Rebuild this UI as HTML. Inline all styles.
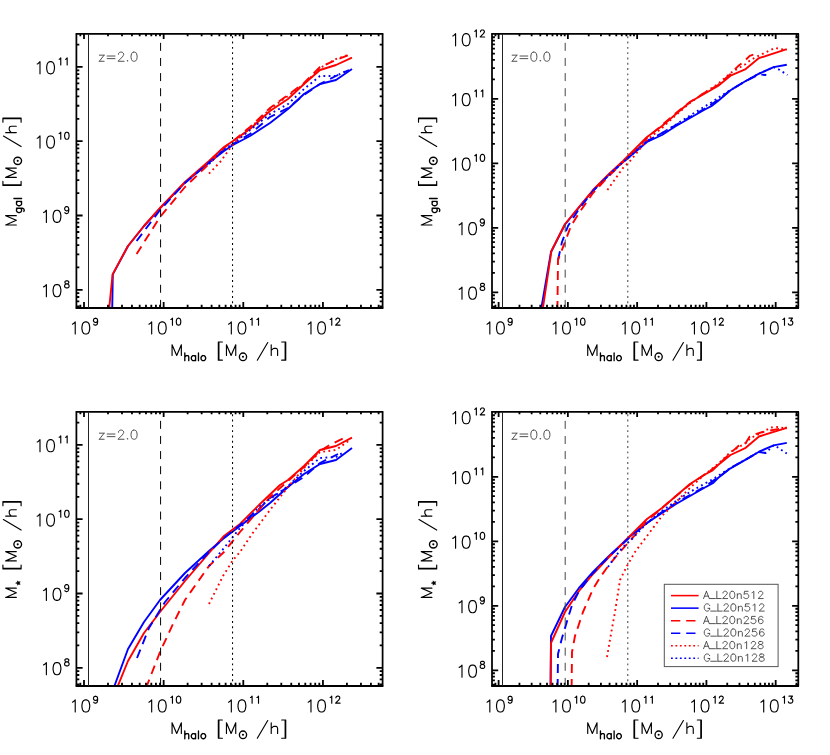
<!DOCTYPE html>
<html><head><meta charset="utf-8"><title>plot</title><style>html,body{margin:0;padding:0;background:#fff}svg{display:block}</style></head><body>
<svg width="830" height="755" viewBox="0 0 830 755" font-family="Liberation Sans, sans-serif" fill="#000">
<desc>Four-panel plot: M_gal and M_star [M_sun/h] versus M_halo [M_sun/h] at z=2.0 and z=0.0 for A_L20n512, G_L20n512, A_L20n256, G_L20n256, A_L20n128, G_L20n128</desc>
<rect width="830" height="755" fill="#fff"/>
<defs>
<clipPath id="c1"><rect x="76.4" y="33.85" width="306.20000000000005" height="274.15"/></clipPath>
<clipPath id="c2"><rect x="492.0" y="33.85" width="306.29999999999995" height="274.15"/></clipPath>
<clipPath id="c3"><rect x="76.4" y="411.85" width="306.20000000000005" height="274.15"/></clipPath>
<clipPath id="c4"><rect x="492.0" y="411.85" width="306.29999999999995" height="274.15"/></clipPath>
</defs>
<path d="M112.2 310.0 L112.8 274.4 L128.0 246.0 L144.0 226.0 L160.0 208.3 L185.0 182.5 L209.0 162.5 L224.0 151.0 L233.0 145.0 L250.0 136.0 L270.0 123.0 L288.0 109.0 L304.0 94.0 L320.0 84.0 L336.0 80.0 L352.0 69.0" fill="none" stroke="#0000ff" stroke-width="1.9" stroke-linejoin="round" clip-path="url(#c1)"/>
<path d="M109.0 310.0 L112.6 274.4 L128.0 246.0 L144.0 226.0 L160.0 208.0 L185.0 182.0 L209.0 161.0 L224.0 147.0 L233.0 141.0 L250.0 129.0 L270.0 111.0 L288.0 99.0 L304.0 84.0 L320.0 70.0 L336.0 65.0 L352.0 57.6" fill="none" stroke="#ff0000" stroke-width="1.9" stroke-linejoin="round" clip-path="url(#c1)"/>
<path d="M136.6 241.0 L160.0 210.0 L185.0 183.0 L209.0 162.5 L224.0 150.0 L233.0 144.0 L250.0 134.0 L270.0 117.0 L288.0 108.0 L304.0 95.0 L320.0 84.0 L336.0 76.0 L349.0 70.0" fill="none" stroke="#0000ff" stroke-width="1.9" stroke-linejoin="round" stroke-dasharray="9 6" clip-path="url(#c1)"/>
<path d="M136.6 254.0 L160.0 217.0 L185.0 187.0 L209.0 164.0 L224.0 148.0 L233.0 141.0 L250.0 127.0 L270.0 108.0 L288.0 95.0 L304.0 83.0 L320.0 67.0 L336.0 60.0 L349.0 55.0" fill="none" stroke="#ff0000" stroke-width="1.9" stroke-linejoin="round" stroke-dasharray="9 6" clip-path="url(#c1)"/>
<path d="M209.0 164.0 L224.0 149.5 L233.0 144.0 L250.0 130.0 L270.0 114.0 L288.0 104.0 L304.0 89.0 L320.0 76.0 L336.0 76.0 L346.0 71.0" fill="none" stroke="#0000ff" stroke-width="1.9" stroke-linejoin="round" stroke-dasharray="1.8 3.4" clip-path="url(#c1)"/>
<path d="M209.0 173.6 L221.0 161.0 L233.0 144.0 L250.0 128.0 L270.0 109.0 L288.0 96.0 L304.0 84.0 L320.0 68.0 L336.0 59.0 L350.0 54.4" fill="none" stroke="#ff0000" stroke-width="1.9" stroke-linejoin="round" stroke-dasharray="1.8 3.4" clip-path="url(#c1)"/>
<path d="M541.0 310.0 L551.0 252.0 L565.0 224.5 L579.0 207.3 L593.0 190.5 L609.0 174.5 L623.0 162.0 L628.0 158.0 L647.0 142.0 L662.0 135.0 L676.0 126.0 L690.0 118.0 L704.0 110.0 L711.3 106.2 L718.0 101.0 L730.5 90.3 L745.7 81.0 L759.0 73.7 L773.6 67.1 L786.8 64.7" fill="none" stroke="#0000ff" stroke-width="1.9" stroke-linejoin="round" clip-path="url(#c2)"/>
<path d="M542.6 310.0 L551.4 251.0 L565.0 224.0 L579.0 207.0 L593.0 190.0 L609.0 174.0 L623.0 161.0 L628.0 156.0 L647.0 137.0 L662.0 126.0 L676.0 114.0 L690.0 102.0 L704.0 94.0 L718.0 86.0 L730.5 75.7 L745.7 69.1 L759.0 58.1 L786.8 49.2" fill="none" stroke="#ff0000" stroke-width="1.9" stroke-linejoin="round" clip-path="url(#c2)"/>
<path d="M558.0 260.0 L562.0 242.0 L568.0 226.0 L579.0 209.0 L593.0 191.0 L609.0 175.0 L623.0 162.0 L628.0 158.0 L647.0 141.0 L662.0 133.0 L676.0 125.0 L690.0 117.0 L704.0 109.0 L718.0 100.0 L730.5 90.0 L745.7 81.0 L759.0 74.5 L766.3 75.0" fill="none" stroke="#0000ff" stroke-width="1.9" stroke-linejoin="round" stroke-dasharray="9 6" clip-path="url(#c2)"/>
<path d="M557.4 310.0 L558.0 260.0 L565.0 242.0 L571.0 226.0 L579.0 213.0 L593.0 193.0 L609.0 176.0 L623.0 162.0 L628.0 157.0 L647.0 138.0 L662.0 125.0 L676.0 113.0 L690.0 102.0 L704.0 93.0 L718.0 85.0 L730.5 74.0 L738.4 65.8 L743.7 61.8 L749.7 55.8 L755.7 53.9" fill="none" stroke="#ff0000" stroke-width="1.9" stroke-linejoin="round" stroke-dasharray="9 6" clip-path="url(#c2)"/>
<path d="M609.0 175.0 L623.0 162.0 L628.0 158.0 L647.0 141.0 L662.0 133.0 L676.0 124.5 L690.0 115.5 L704.0 107.0 L711.3 102.5 L724.0 94.0 L730.5 90.0 L745.7 81.0 L759.0 73.7 L773.6 67.1 L779.5 69.8 L787.5 75.0" fill="none" stroke="#0000ff" stroke-width="1.9" stroke-linejoin="round" stroke-dasharray="1.8 3.4" clip-path="url(#c2)"/>
<path d="M607.4 190.0 L623.0 168.0 L631.0 160.0 L647.0 140.0 L662.0 128.0 L676.0 115.0 L690.0 103.0 L704.0 93.0 L718.0 84.0 L730.5 73.0 L745.7 64.0 L750.5 60.0 L759.0 55.5 L774.9 47.9 L781.0 49.2 L786.8 49.9" fill="none" stroke="#ff0000" stroke-width="1.9" stroke-linejoin="round" stroke-dasharray="1.8 3.4" clip-path="url(#c2)"/>
<path d="M113.7 688.0 L128.0 649.0 L144.0 622.0 L160.0 600.0 L185.0 573.0 L209.0 551.0 L224.0 538.0 L240.0 526.0 L260.0 511.0 L270.0 503.0 L288.0 487.0 L304.0 474.0 L320.0 464.0 L336.0 460.0 L352.0 448.0" fill="none" stroke="#0000ff" stroke-width="1.9" stroke-linejoin="round" clip-path="url(#c3)"/>
<path d="M117.0 688.0 L128.0 661.0 L144.0 633.0 L160.0 612.0 L185.0 581.0 L209.0 553.0 L224.0 536.0 L240.0 524.0 L260.0 504.0 L280.0 485.0 L288.0 480.0 L304.0 466.0 L320.0 450.0 L336.0 446.0 L352.0 437.6" fill="none" stroke="#ff0000" stroke-width="1.9" stroke-linejoin="round" clip-path="url(#c3)"/>
<path d="M137.0 658.0 L149.0 628.0 L165.0 602.0 L185.0 578.0 L209.0 552.0 L224.0 538.0 L240.0 525.0 L260.0 508.0 L270.0 498.0 L288.0 487.0 L304.0 477.0 L320.0 463.0 L338.0 454.0" fill="none" stroke="#0000ff" stroke-width="1.9" stroke-linejoin="round" stroke-dasharray="9 6" clip-path="url(#c3)"/>
<path d="M146.0 688.0 L160.0 652.0 L173.0 624.0 L185.0 600.0 L197.0 583.0 L209.0 566.0 L224.0 552.0 L240.0 532.0 L252.0 518.0 L270.0 497.0 L288.0 481.0 L304.0 467.0 L320.0 451.0 L328.0 446.0 L344.0 438.0" fill="none" stroke="#ff0000" stroke-width="1.9" stroke-linejoin="round" stroke-dasharray="9 6" clip-path="url(#c3)"/>
<path d="M209.0 566.0 L224.0 548.0 L240.0 528.0 L260.0 506.0 L280.0 492.0 L288.0 486.0 L304.0 471.0 L320.0 458.0 L336.0 457.0 L344.0 452.0" fill="none" stroke="#0000ff" stroke-width="1.9" stroke-linejoin="round" stroke-dasharray="1.8 3.4" clip-path="url(#c3)"/>
<path d="M209.0 604.0 L223.0 576.0 L233.0 560.0 L240.0 552.0 L252.0 534.0 L270.0 510.0 L288.0 487.0 L304.0 468.0 L320.0 452.0 L336.0 450.0 L350.0 440.0" fill="none" stroke="#ff0000" stroke-width="1.9" stroke-linejoin="round" stroke-dasharray="1.8 3.4" clip-path="url(#c3)"/>
<path d="M550.6 688.0 L551.0 636.0 L565.0 607.0 L579.0 588.0 L593.0 572.0 L609.0 556.0 L623.0 543.0 L628.0 538.0 L647.0 523.0 L662.0 513.0 L676.0 504.0 L690.0 496.0 L704.0 488.0 L713.3 482.9 L718.0 478.0 L730.5 468.3 L745.7 459.7 L759.0 451.7 L773.6 445.4 L786.8 442.9" fill="none" stroke="#0000ff" stroke-width="1.9" stroke-linejoin="round" clip-path="url(#c4)"/>
<path d="M550.6 688.0 L551.0 643.0 L565.0 612.0 L579.0 591.0 L593.0 574.0 L609.0 557.0 L623.0 543.0 L628.0 538.0 L647.0 519.0 L662.0 508.0 L676.0 496.0 L690.0 484.0 L704.0 475.0 L712.6 470.3 L718.0 465.0 L730.5 455.0 L745.7 447.8 L759.0 436.5 L786.8 427.9" fill="none" stroke="#ff0000" stroke-width="1.9" stroke-linejoin="round" clip-path="url(#c4)"/>
<path d="M557.6 688.0 L558.0 654.0 L562.0 638.0 L568.0 618.0 L572.0 605.0 L579.0 591.0 L593.0 573.0 L609.0 556.5 L623.0 543.5 L628.0 539.0 L647.0 523.0 L662.0 512.0 L676.0 503.0 L690.0 495.0 L704.0 487.0 L718.0 477.5 L730.5 468.0 L745.7 459.5 L759.0 452.0 L766.0 453.0" fill="none" stroke="#0000ff" stroke-width="1.9" stroke-linejoin="round" stroke-dasharray="9 6" clip-path="url(#c4)"/>
<path d="M571.6 688.0 L572.0 652.0 L575.0 636.0 L583.0 612.0 L593.0 589.0 L601.0 576.0 L609.0 565.0 L619.0 553.0 L629.0 542.0 L647.0 521.0 L662.0 508.0 L676.0 496.0 L690.0 484.5 L704.0 475.0 L718.0 465.0 L730.5 453.0 L738.4 446.0 L745.7 443.0 L749.7 436.5 L753.0 435.0 L761.0 432.5 L767.6 431.0 L786.8 427.5" fill="none" stroke="#ff0000" stroke-width="1.9" stroke-linejoin="round" stroke-dasharray="9 6" clip-path="url(#c4)"/>
<path d="M608.0 567.0 L615.0 557.0 L623.0 547.0 L632.0 539.0 L647.0 523.0 L662.0 511.0 L676.0 501.0 L690.0 492.0 L704.0 484.0 L713.3 479.0 L724.0 472.0 L730.5 468.0 L745.7 459.5 L759.0 451.7 L765.6 453.0 L773.6 445.4 L777.0 447.0 L781.5 450.0 L786.8 453.5" fill="none" stroke="#0000ff" stroke-width="1.9" stroke-linejoin="round" stroke-dasharray="1.8 3.4" clip-path="url(#c4)"/>
<path d="M607.0 657.0 L611.0 634.0 L615.0 612.0 L620.0 580.0 L627.0 566.0 L635.0 552.0 L647.0 536.0 L662.0 516.0 L676.0 502.0 L690.0 488.0 L704.0 475.0 L718.0 464.0 L730.5 452.0 L745.7 443.0 L750.5 438.0 L759.0 434.0 L771.0 427.5 L777.0 427.0 L786.8 428.5" fill="none" stroke="#ff0000" stroke-width="1.9" stroke-linejoin="round" stroke-dasharray="1.8 3.4" clip-path="url(#c4)"/>
<path d="M76.55000000000001 33.85 H382.45000000000005" fill="none" stroke="#000" stroke-width="1.8" stroke-linecap="round"/>
<path d="M76.55000000000001 308.0 H382.45000000000005" fill="none" stroke="#000" stroke-width="2.0" stroke-linecap="round"/>
<path d="M76.4 33.85 V308.0 M382.6 33.85 V308.0" fill="none" stroke="#000" stroke-width="1.75" stroke-linecap="round"/>
<path d="M80.36 308.0 v-3.30 M80.36 33.85 v2.45 M84.00 308.0 v-6.00 M84.00 33.85 v5.15 M107.98 308.0 v-3.30 M107.98 33.85 v2.45 M122.00 308.0 v-3.30 M122.00 33.85 v2.45 M131.95 308.0 v-3.30 M131.95 33.85 v2.45 M139.67 308.0 v-3.30 M139.67 33.85 v2.45 M145.98 308.0 v-3.30 M145.98 33.85 v2.45 M151.31 308.0 v-3.30 M151.31 33.85 v2.45 M155.93 308.0 v-3.30 M155.93 33.85 v2.45 M160.01 308.0 v-3.30 M160.01 33.85 v2.45 M163.65 308.0 v-6.00 M163.65 33.85 v5.15 M187.63 308.0 v-3.30 M187.63 33.85 v2.45 M201.65 308.0 v-3.30 M201.65 33.85 v2.45 M211.60 308.0 v-3.30 M211.60 33.85 v2.45 M219.32 308.0 v-3.30 M219.32 33.85 v2.45 M225.63 308.0 v-3.30 M225.63 33.85 v2.45 M230.96 308.0 v-3.30 M230.96 33.85 v2.45 M235.58 308.0 v-3.30 M235.58 33.85 v2.45 M239.66 308.0 v-3.30 M239.66 33.85 v2.45 M243.30 308.0 v-6.00 M243.30 33.85 v5.15 M267.28 308.0 v-3.30 M267.28 33.85 v2.45 M281.30 308.0 v-3.30 M281.30 33.85 v2.45 M291.25 308.0 v-3.30 M291.25 33.85 v2.45 M298.97 308.0 v-3.30 M298.97 33.85 v2.45 M305.28 308.0 v-3.30 M305.28 33.85 v2.45 M310.61 308.0 v-3.30 M310.61 33.85 v2.45 M315.23 308.0 v-3.30 M315.23 33.85 v2.45 M319.31 308.0 v-3.30 M319.31 33.85 v2.45 M322.95 308.0 v-6.00 M322.95 33.85 v5.15 M346.93 308.0 v-3.30 M346.93 33.85 v2.45 M360.95 308.0 v-3.30 M360.95 33.85 v2.45 M370.90 308.0 v-3.30 M370.90 33.85 v2.45 M378.62 308.0 v-3.30 M378.62 33.85 v2.45 M76.4 306.28 h2.9 M382.6 306.28 h-2.9 M76.4 301.31 h2.9 M382.6 301.31 h-2.9 M76.4 297.00 h2.9 M382.6 297.00 h-2.9 M76.4 293.20 h2.9 M382.6 293.20 h-2.9 M76.4 289.80 h6.199999999999999 M382.6 289.80 h-6.199999999999999 M76.4 267.43 h2.9 M382.6 267.43 h-2.9 M76.4 254.35 h2.9 M382.6 254.35 h-2.9 M76.4 245.07 h2.9 M382.6 245.07 h-2.9 M76.4 237.87 h2.9 M382.6 237.87 h-2.9 M76.4 231.98 h2.9 M382.6 231.98 h-2.9 M76.4 227.01 h2.9 M382.6 227.01 h-2.9 M76.4 222.70 h2.9 M382.6 222.70 h-2.9 M76.4 218.90 h2.9 M382.6 218.90 h-2.9 M76.4 215.50 h6.199999999999999 M382.6 215.50 h-6.199999999999999 M76.4 193.13 h2.9 M382.6 193.13 h-2.9 M76.4 180.05 h2.9 M382.6 180.05 h-2.9 M76.4 170.77 h2.9 M382.6 170.77 h-2.9 M76.4 163.57 h2.9 M382.6 163.57 h-2.9 M76.4 157.68 h2.9 M382.6 157.68 h-2.9 M76.4 152.71 h2.9 M382.6 152.71 h-2.9 M76.4 148.40 h2.9 M382.6 148.40 h-2.9 M76.4 144.60 h2.9 M382.6 144.60 h-2.9 M76.4 141.20 h6.199999999999999 M382.6 141.20 h-6.199999999999999 M76.4 118.83 h2.9 M382.6 118.83 h-2.9 M76.4 105.75 h2.9 M382.6 105.75 h-2.9 M76.4 96.47 h2.9 M382.6 96.47 h-2.9 M76.4 89.27 h2.9 M382.6 89.27 h-2.9 M76.4 83.38 h2.9 M382.6 83.38 h-2.9 M76.4 78.41 h2.9 M382.6 78.41 h-2.9 M76.4 74.10 h2.9 M382.6 74.10 h-2.9 M76.4 70.30 h2.9 M382.6 70.30 h-2.9 M76.4 66.90 h6.199999999999999 M382.6 66.90 h-6.199999999999999 M76.4 44.53 h2.9 M382.6 44.53 h-2.9" stroke="#000" stroke-width="1.8" fill="none"/>
<g transform="translate(84.00 334.00)" fill="none" stroke="#000" stroke-width="1.15" stroke-linecap="round" stroke-linejoin="round"><path d="M-11.55 -9.83 L-10.44 -10.40 L-8.77 -12.14 L-8.77 0.00 M1.26 -12.14 L-0.41 -11.56 L-1.52 -9.83 L-2.08 -6.94 L-2.08 -5.20 L-1.52 -2.31 L-0.41 -0.58 L1.26 0.00 L2.37 0.00 L4.05 -0.58 L5.16 -2.31 L5.72 -5.20 L5.72 -6.94 L5.16 -9.83 L4.05 -11.56 L2.37 -12.14 L1.26 -12.14"/><path d="M13.61 -13.50 L13.29 -12.51 L12.65 -11.84 L11.69 -11.51 L11.37 -11.51 L10.41 -11.84 L9.77 -12.51 L9.45 -13.50 L9.45 -13.84 L9.77 -14.83 L10.41 -15.50 L11.37 -15.83 L11.69 -15.83 L12.65 -15.50 L13.29 -14.83 L13.61 -13.50 L13.61 -11.84 L13.29 -10.18 L12.65 -9.18 L11.69 -8.85 L11.05 -8.85 L10.09 -9.18 L9.77 -9.85" stroke-width="1.15"/></g>
<g transform="translate(163.65 334.00)" fill="none" stroke="#000" stroke-width="1.15" stroke-linecap="round" stroke-linejoin="round"><path d="M-14.75 -9.83 L-13.64 -10.40 L-11.97 -12.14 L-11.97 0.00 M-1.94 -12.14 L-3.61 -11.56 L-4.73 -9.83 L-5.28 -6.94 L-5.28 -5.20 L-4.73 -2.31 L-3.61 -0.58 L-1.94 0.00 L-0.83 0.00 L0.84 -0.58 L1.96 -2.31 L2.51 -5.20 L2.51 -6.94 L1.96 -9.83 L0.84 -11.56 L-0.83 -12.14 L-1.94 -12.14"/><path d="M7.21 -14.50 L7.85 -14.83 L8.81 -15.83 L8.81 -8.85 M14.57 -15.83 L13.61 -15.50 L12.97 -14.50 L12.65 -12.84 L12.65 -11.84 L12.97 -10.18 L13.61 -9.18 L14.57 -8.85 L15.21 -8.85 L16.17 -9.18 L16.81 -10.18 L17.13 -11.84 L17.13 -12.84 L16.81 -14.50 L16.17 -15.50 L15.21 -15.83 L14.57 -15.83" stroke-width="1.15"/></g>
<g transform="translate(243.30 334.00)" fill="none" stroke="#000" stroke-width="1.15" stroke-linecap="round" stroke-linejoin="round"><path d="M-14.75 -9.83 L-13.64 -10.40 L-11.97 -12.14 L-11.97 0.00 M-1.94 -12.14 L-3.61 -11.56 L-4.73 -9.83 L-5.28 -6.94 L-5.28 -5.20 L-4.73 -2.31 L-3.61 -0.58 L-1.94 0.00 L-0.83 0.00 L0.84 -0.58 L1.96 -2.31 L2.51 -5.20 L2.51 -6.94 L1.96 -9.83 L0.84 -11.56 L-0.83 -12.14 L-1.94 -12.14"/><path d="M7.21 -14.50 L7.85 -14.83 L8.81 -15.83 L8.81 -8.85 M13.61 -14.50 L14.25 -14.83 L15.21 -15.83 L15.21 -8.85" stroke-width="1.15"/></g>
<g transform="translate(322.95 334.00)" fill="none" stroke="#000" stroke-width="1.15" stroke-linecap="round" stroke-linejoin="round"><path d="M-14.75 -9.83 L-13.64 -10.40 L-11.97 -12.14 L-11.97 0.00 M-1.94 -12.14 L-3.61 -11.56 L-4.73 -9.83 L-5.28 -6.94 L-5.28 -5.20 L-4.73 -2.31 L-3.61 -0.58 L-1.94 0.00 L-0.83 0.00 L0.84 -0.58 L1.96 -2.31 L2.51 -5.20 L2.51 -6.94 L1.96 -9.83 L0.84 -11.56 L-0.83 -12.14 L-1.94 -12.14"/><path d="M7.21 -14.50 L7.85 -14.83 L8.81 -15.83 L8.81 -8.85 M12.97 -14.17 L12.97 -14.50 L13.29 -15.16 L13.61 -15.50 L14.25 -15.83 L15.53 -15.83 L16.17 -15.50 L16.49 -15.16 L16.81 -14.50 L16.81 -13.84 L16.49 -13.17 L15.85 -12.17 L12.65 -8.85 L17.13 -8.85" stroke-width="1.15"/></g>
<g transform="translate(70.05 296.70)" fill="none" stroke="#000" stroke-width="1.15" stroke-linecap="round" stroke-linejoin="round"><path d="M-26.44 -9.83 L-25.33 -10.40 L-23.66 -12.14 L-23.66 0.00 M-13.63 -12.14 L-15.30 -11.56 L-16.42 -9.83 L-16.97 -6.94 L-16.97 -5.20 L-16.42 -2.31 L-15.30 -0.58 L-13.63 0.00 L-12.52 0.00 L-10.85 -0.58 L-9.73 -2.31 L-9.18 -5.20 L-9.18 -6.94 L-9.73 -9.83 L-10.85 -11.56 L-12.52 -12.14 L-13.63 -12.14"/><path d="M-3.84 -15.83 L-4.80 -15.50 L-5.12 -14.83 L-5.12 -14.17 L-4.80 -13.50 L-4.16 -13.17 L-2.88 -12.84 L-1.92 -12.51 L-1.28 -11.84 L-0.96 -11.18 L-0.96 -10.18 L-1.28 -9.51 L-1.60 -9.18 L-2.56 -8.85 L-3.84 -8.85 L-4.80 -9.18 L-5.12 -9.51 L-5.44 -10.18 L-5.44 -11.18 L-5.12 -11.84 L-4.48 -12.51 L-3.52 -12.84 L-2.24 -13.17 L-1.60 -13.50 L-1.28 -14.17 L-1.28 -14.83 L-1.60 -15.50 L-2.56 -15.83 L-3.84 -15.83" stroke-width="1.15"/></g>
<g transform="translate(70.05 222.40)" fill="none" stroke="#000" stroke-width="1.15" stroke-linecap="round" stroke-linejoin="round"><path d="M-26.44 -9.83 L-25.33 -10.40 L-23.66 -12.14 L-23.66 0.00 M-13.63 -12.14 L-15.30 -11.56 L-16.42 -9.83 L-16.97 -6.94 L-16.97 -5.20 L-16.42 -2.31 L-15.30 -0.58 L-13.63 0.00 L-12.52 0.00 L-10.85 -0.58 L-9.73 -2.31 L-9.18 -5.20 L-9.18 -6.94 L-9.73 -9.83 L-10.85 -11.56 L-12.52 -12.14 L-13.63 -12.14"/><path d="M-1.28 -13.50 L-1.60 -12.51 L-2.24 -11.84 L-3.20 -11.51 L-3.52 -11.51 L-4.48 -11.84 L-5.12 -12.51 L-5.44 -13.50 L-5.44 -13.84 L-5.12 -14.83 L-4.48 -15.50 L-3.52 -15.83 L-3.20 -15.83 L-2.24 -15.50 L-1.60 -14.83 L-1.28 -13.50 L-1.28 -11.84 L-1.60 -10.18 L-2.24 -9.18 L-3.20 -8.85 L-3.84 -8.85 L-4.80 -9.18 L-5.12 -9.85" stroke-width="1.15"/></g>
<g transform="translate(70.05 148.10)" fill="none" stroke="#000" stroke-width="1.15" stroke-linecap="round" stroke-linejoin="round"><path d="M-32.85 -9.83 L-31.74 -10.40 L-30.06 -12.14 L-30.06 0.00 M-20.04 -12.14 L-21.71 -11.56 L-22.82 -9.83 L-23.38 -6.94 L-23.38 -5.20 L-22.82 -2.31 L-21.71 -0.58 L-20.04 0.00 L-18.92 0.00 L-17.25 -0.58 L-16.14 -2.31 L-15.58 -5.20 L-15.58 -6.94 L-16.14 -9.83 L-17.25 -11.56 L-18.92 -12.14 L-20.04 -12.14"/><path d="M-10.89 -14.50 L-10.25 -14.83 L-9.29 -15.83 L-9.29 -8.85 M-3.52 -15.83 L-4.48 -15.50 L-5.12 -14.50 L-5.44 -12.84 L-5.44 -11.84 L-5.12 -10.18 L-4.48 -9.18 L-3.52 -8.85 L-2.88 -8.85 L-1.92 -9.18 L-1.28 -10.18 L-0.96 -11.84 L-0.96 -12.84 L-1.28 -14.50 L-1.92 -15.50 L-2.88 -15.83 L-3.52 -15.83" stroke-width="1.15"/></g>
<g transform="translate(70.05 73.80)" fill="none" stroke="#000" stroke-width="1.15" stroke-linecap="round" stroke-linejoin="round"><path d="M-32.85 -9.83 L-31.74 -10.40 L-30.06 -12.14 L-30.06 0.00 M-20.04 -12.14 L-21.71 -11.56 L-22.82 -9.83 L-23.38 -6.94 L-23.38 -5.20 L-22.82 -2.31 L-21.71 -0.58 L-20.04 0.00 L-18.92 0.00 L-17.25 -0.58 L-16.14 -2.31 L-15.58 -5.20 L-15.58 -6.94 L-16.14 -9.83 L-17.25 -11.56 L-18.92 -12.14 L-20.04 -12.14"/><path d="M-10.89 -14.50 L-10.25 -14.83 L-9.29 -15.83 L-9.29 -8.85 M-4.48 -14.50 L-3.84 -14.83 L-2.88 -15.83 L-2.88 -8.85" stroke-width="1.15"/></g>
<line x1="88.50" y1="33.85" x2="88.50" y2="308.0" stroke="#222" stroke-width="1"/>
<line x1="160.58" y1="42.85" x2="160.58" y2="308.0" stroke="#000" stroke-width="1" stroke-dasharray="8.0 7.12"/>
<line x1="232.55" y1="36.30" x2="232.55" y2="308.0" stroke="#000" stroke-width="1.05" stroke-dasharray="1.9 3.4"/>
<g transform="translate(98.05 61.25)" fill="none" stroke="#505050" stroke-width="1.0" stroke-linecap="round" stroke-linejoin="round"><path d="M6.08 -6.09 L1.30 0.00 M1.30 -6.09 L6.08 -6.09 M1.30 0.00 L6.08 0.00 M9.11 -5.22 L16.93 -5.22 M9.11 -2.61 L16.93 -2.61 M20.40 -6.96 L20.40 -7.39 L20.83 -8.27 L21.27 -8.70 L22.13 -9.13 L23.87 -9.13 L24.74 -8.70 L25.17 -8.27 L25.61 -7.39 L25.61 -6.53 L25.17 -5.66 L24.30 -4.35 L19.96 0.00 L26.04 0.00 M29.51 -0.87 L29.08 -0.43 L29.51 0.00 L29.95 -0.43 L29.51 -0.87 M35.59 -9.13 L34.29 -8.70 L33.42 -7.39 L32.98 -5.22 L32.98 -3.92 L33.42 -1.74 L34.29 -0.43 L35.59 0.00 L36.46 0.00 L37.76 -0.43 L38.63 -1.74 L39.06 -3.92 L39.06 -5.22 L38.63 -7.39 L37.76 -8.70 L36.46 -9.13 L35.59 -9.13"/></g>
<g transform="translate(228.90 355.40)" fill="none" stroke="#000" stroke-width="1.15" stroke-linecap="round" stroke-linejoin="round"><path d="M-56.83 -10.61 L-56.83 0.00 M-56.83 -10.61 L-52.19 0.00 M-47.55 -10.61 L-52.19 0.00 M-47.55 -10.61 L-47.55 0.00 M-10.56 -13.38 L-10.56 4.80 M-9.98 -13.38 L-9.98 4.80 M-10.56 -13.38 L-6.50 -13.38 M-10.56 4.80 L-6.50 4.80 M-2.44 -10.61 L-2.44 0.00 M-2.44 -10.61 L2.20 0.00 M6.84 -10.61 L2.20 0.00 M6.84 -10.61 L6.84 0.00 M38.85 -12.88 L28.41 4.80 M42.33 -10.61 L42.33 0.00 M42.33 -5.05 L44.07 -6.57 L45.23 -7.07 L46.97 -7.07 L48.13 -6.57 L48.71 -5.05 L48.71 0.00 M56.25 -13.38 L56.25 4.80 M56.83 -13.38 L56.83 4.80 M52.77 -13.38 L56.83 -13.38 M52.77 4.80 L56.83 4.80"/><path d="M-44.09 -2.39 L-44.09 5.30 M-44.09 1.64 L-43.02 0.54 L-42.30 0.17 L-41.22 0.17 L-40.50 0.54 L-40.14 1.64 L-40.14 5.30 M-33.31 0.17 L-33.31 5.30 M-33.31 1.27 L-34.03 0.54 L-34.74 0.17 L-35.82 0.17 L-36.54 0.54 L-37.26 1.27 L-37.62 2.37 L-37.62 3.10 L-37.26 4.20 L-36.54 4.93 L-35.82 5.30 L-34.74 5.30 L-34.03 4.93 L-33.31 4.20 M-30.43 -2.39 L-30.43 5.30 M-26.11 0.17 L-26.83 0.54 L-27.55 1.27 L-27.91 2.37 L-27.91 3.10 L-27.55 4.20 L-26.83 4.93 L-26.11 5.30 L-25.04 5.30 L-24.32 4.93 L-23.60 4.20 L-23.24 3.10 L-23.24 2.37 L-23.60 1.27 L-24.32 0.54 L-25.04 0.17 L-26.11 0.17" stroke-width="1.35"/><ellipse cx="14.09" cy="1.42" rx="3.60" ry="3.85" fill="none" stroke-width="1.35"/><circle cx="14.09" cy="1.42" r="1.05" fill="#000" stroke="none"/></g>
<g transform="translate(16.30 171.53) rotate(-90)" fill="none" stroke="#000" stroke-width="1.15" stroke-linecap="round" stroke-linejoin="round"><path d="M-53.42 -10.61 L-53.42 0.00 M-53.42 -10.61 L-48.78 0.00 M-44.14 -10.61 L-48.78 0.00 M-44.14 -10.61 L-44.14 0.00 M-13.97 -13.38 L-13.97 4.80 M-13.39 -13.38 L-13.39 4.80 M-13.97 -13.38 L-9.91 -13.38 M-13.97 4.80 L-9.91 4.80 M-5.85 -10.61 L-5.85 0.00 M-5.85 -10.61 L-1.21 0.00 M3.43 -10.61 L-1.21 0.00 M3.43 -10.61 L3.43 0.00 M35.44 -12.88 L25.00 4.80 M38.92 -10.61 L38.92 0.00 M38.92 -5.05 L40.66 -6.57 L41.82 -7.07 L43.56 -7.07 L44.72 -6.57 L45.30 -5.05 L45.30 0.00 M52.84 -13.38 L52.84 4.80 M53.42 -13.38 L53.42 4.80 M49.36 -13.38 L53.42 -13.38 M49.36 4.80 L53.42 4.80"/><path d="M-36.72 0.17 L-36.72 6.03 L-37.08 7.13 L-37.44 7.50 L-38.16 7.86 L-39.24 7.86 L-39.96 7.50 M-36.72 1.27 L-37.44 0.54 L-38.16 0.17 L-39.24 0.17 L-39.96 0.54 L-40.68 1.27 L-41.04 2.37 L-41.04 3.10 L-40.68 4.20 L-39.96 4.93 L-39.24 5.30 L-38.16 5.30 L-37.44 4.93 L-36.72 4.20 M-29.89 0.17 L-29.89 5.30 M-29.89 1.27 L-30.61 0.54 L-31.33 0.17 L-32.41 0.17 L-33.13 0.54 L-33.85 1.27 L-34.21 2.37 L-34.21 3.10 L-33.85 4.20 L-33.13 4.93 L-32.41 5.30 L-31.33 5.30 L-30.61 4.93 L-29.89 4.20 M-27.01 -2.39 L-27.01 5.30" stroke-width="1.35"/><ellipse cx="10.67" cy="1.42" rx="3.60" ry="3.85" fill="none" stroke-width="1.35"/><circle cx="10.67" cy="1.42" r="1.05" fill="#000" stroke="none"/></g>
<path d="M492.15 33.85 H798.15" fill="none" stroke="#000" stroke-width="1.8" stroke-linecap="round"/>
<path d="M492.15 308.0 H798.15" fill="none" stroke="#000" stroke-width="2.0" stroke-linecap="round"/>
<path d="M492.0 33.85 V308.0 M798.3 33.85 V308.0" fill="none" stroke="#000" stroke-width="1.75" stroke-linecap="round"/>
<path d="M495.43 308.0 v-3.30 M495.43 33.85 v2.45 M498.60 308.0 v-6.00 M498.60 33.85 v5.15 M519.45 308.0 v-3.30 M519.45 33.85 v2.45 M531.65 308.0 v-3.30 M531.65 33.85 v2.45 M540.30 308.0 v-3.30 M540.30 33.85 v2.45 M547.02 308.0 v-3.30 M547.02 33.85 v2.45 M552.50 308.0 v-3.30 M552.50 33.85 v2.45 M557.14 308.0 v-3.30 M557.14 33.85 v2.45 M561.16 308.0 v-3.30 M561.16 33.85 v2.45 M564.70 308.0 v-3.30 M564.70 33.85 v2.45 M567.87 308.0 v-6.00 M567.87 33.85 v5.15 M588.72 308.0 v-3.30 M588.72 33.85 v2.45 M600.92 308.0 v-3.30 M600.92 33.85 v2.45 M609.57 308.0 v-3.30 M609.57 33.85 v2.45 M616.29 308.0 v-3.30 M616.29 33.85 v2.45 M621.77 308.0 v-3.30 M621.77 33.85 v2.45 M626.41 308.0 v-3.30 M626.41 33.85 v2.45 M630.43 308.0 v-3.30 M630.43 33.85 v2.45 M633.97 308.0 v-3.30 M633.97 33.85 v2.45 M637.14 308.0 v-6.00 M637.14 33.85 v5.15 M657.99 308.0 v-3.30 M657.99 33.85 v2.45 M670.19 308.0 v-3.30 M670.19 33.85 v2.45 M678.84 308.0 v-3.30 M678.84 33.85 v2.45 M685.56 308.0 v-3.30 M685.56 33.85 v2.45 M691.04 308.0 v-3.30 M691.04 33.85 v2.45 M695.68 308.0 v-3.30 M695.68 33.85 v2.45 M699.70 308.0 v-3.30 M699.70 33.85 v2.45 M703.24 308.0 v-3.30 M703.24 33.85 v2.45 M706.41 308.0 v-6.00 M706.41 33.85 v5.15 M727.26 308.0 v-3.30 M727.26 33.85 v2.45 M739.46 308.0 v-3.30 M739.46 33.85 v2.45 M748.11 308.0 v-3.30 M748.11 33.85 v2.45 M754.83 308.0 v-3.30 M754.83 33.85 v2.45 M760.31 308.0 v-3.30 M760.31 33.85 v2.45 M764.95 308.0 v-3.30 M764.95 33.85 v2.45 M768.97 308.0 v-3.30 M768.97 33.85 v2.45 M772.51 308.0 v-3.30 M772.51 33.85 v2.45 M775.68 308.0 v-6.00 M775.68 33.85 v5.15 M796.53 308.0 v-3.30 M796.53 33.85 v2.45 M492.0 306.61 h2.9 M798.3 306.61 h-2.9 M492.0 302.29 h2.9 M798.3 302.29 h-2.9 M492.0 298.55 h2.9 M798.3 298.55 h-2.9 M492.0 295.25 h2.9 M798.3 295.25 h-2.9 M492.0 292.30 h6.199999999999999 M798.3 292.30 h-6.199999999999999 M492.0 272.88 h2.9 M798.3 272.88 h-2.9 M492.0 261.53 h2.9 M798.3 261.53 h-2.9 M492.0 253.47 h2.9 M798.3 253.47 h-2.9 M492.0 247.22 h2.9 M798.3 247.22 h-2.9 M492.0 242.11 h2.9 M798.3 242.11 h-2.9 M492.0 237.79 h2.9 M798.3 237.79 h-2.9 M492.0 234.05 h2.9 M798.3 234.05 h-2.9 M492.0 230.75 h2.9 M798.3 230.75 h-2.9 M492.0 227.80 h6.199999999999999 M798.3 227.80 h-6.199999999999999 M492.0 208.38 h2.9 M798.3 208.38 h-2.9 M492.0 197.03 h2.9 M798.3 197.03 h-2.9 M492.0 188.97 h2.9 M798.3 188.97 h-2.9 M492.0 182.72 h2.9 M798.3 182.72 h-2.9 M492.0 177.61 h2.9 M798.3 177.61 h-2.9 M492.0 173.29 h2.9 M798.3 173.29 h-2.9 M492.0 169.55 h2.9 M798.3 169.55 h-2.9 M492.0 166.25 h2.9 M798.3 166.25 h-2.9 M492.0 163.30 h6.199999999999999 M798.3 163.30 h-6.199999999999999 M492.0 143.88 h2.9 M798.3 143.88 h-2.9 M492.0 132.53 h2.9 M798.3 132.53 h-2.9 M492.0 124.47 h2.9 M798.3 124.47 h-2.9 M492.0 118.22 h2.9 M798.3 118.22 h-2.9 M492.0 113.11 h2.9 M798.3 113.11 h-2.9 M492.0 108.79 h2.9 M798.3 108.79 h-2.9 M492.0 105.05 h2.9 M798.3 105.05 h-2.9 M492.0 101.75 h2.9 M798.3 101.75 h-2.9 M492.0 98.80 h6.199999999999999 M798.3 98.80 h-6.199999999999999 M492.0 79.38 h2.9 M798.3 79.38 h-2.9 M492.0 68.03 h2.9 M798.3 68.03 h-2.9 M492.0 59.97 h2.9 M798.3 59.97 h-2.9 M492.0 53.72 h2.9 M798.3 53.72 h-2.9 M492.0 48.61 h2.9 M798.3 48.61 h-2.9 M492.0 44.29 h2.9 M798.3 44.29 h-2.9 M492.0 40.55 h2.9 M798.3 40.55 h-2.9 M492.0 37.25 h2.9 M798.3 37.25 h-2.9" stroke="#000" stroke-width="1.8" fill="none"/>
<g transform="translate(498.60 334.00)" fill="none" stroke="#000" stroke-width="1.15" stroke-linecap="round" stroke-linejoin="round"><path d="M-11.55 -9.83 L-10.44 -10.40 L-8.77 -12.14 L-8.77 0.00 M1.26 -12.14 L-0.41 -11.56 L-1.52 -9.83 L-2.08 -6.94 L-2.08 -5.20 L-1.52 -2.31 L-0.41 -0.58 L1.26 0.00 L2.37 0.00 L4.05 -0.58 L5.16 -2.31 L5.72 -5.20 L5.72 -6.94 L5.16 -9.83 L4.05 -11.56 L2.37 -12.14 L1.26 -12.14"/><path d="M13.61 -13.50 L13.29 -12.51 L12.65 -11.84 L11.69 -11.51 L11.37 -11.51 L10.41 -11.84 L9.77 -12.51 L9.45 -13.50 L9.45 -13.84 L9.77 -14.83 L10.41 -15.50 L11.37 -15.83 L11.69 -15.83 L12.65 -15.50 L13.29 -14.83 L13.61 -13.50 L13.61 -11.84 L13.29 -10.18 L12.65 -9.18 L11.69 -8.85 L11.05 -8.85 L10.09 -9.18 L9.77 -9.85" stroke-width="1.15"/></g>
<g transform="translate(567.87 334.00)" fill="none" stroke="#000" stroke-width="1.15" stroke-linecap="round" stroke-linejoin="round"><path d="M-14.75 -9.83 L-13.64 -10.40 L-11.97 -12.14 L-11.97 0.00 M-1.94 -12.14 L-3.61 -11.56 L-4.73 -9.83 L-5.28 -6.94 L-5.28 -5.20 L-4.73 -2.31 L-3.61 -0.58 L-1.94 0.00 L-0.83 0.00 L0.84 -0.58 L1.96 -2.31 L2.51 -5.20 L2.51 -6.94 L1.96 -9.83 L0.84 -11.56 L-0.83 -12.14 L-1.94 -12.14"/><path d="M7.21 -14.50 L7.85 -14.83 L8.81 -15.83 L8.81 -8.85 M14.57 -15.83 L13.61 -15.50 L12.97 -14.50 L12.65 -12.84 L12.65 -11.84 L12.97 -10.18 L13.61 -9.18 L14.57 -8.85 L15.21 -8.85 L16.17 -9.18 L16.81 -10.18 L17.13 -11.84 L17.13 -12.84 L16.81 -14.50 L16.17 -15.50 L15.21 -15.83 L14.57 -15.83" stroke-width="1.15"/></g>
<g transform="translate(637.14 334.00)" fill="none" stroke="#000" stroke-width="1.15" stroke-linecap="round" stroke-linejoin="round"><path d="M-14.75 -9.83 L-13.64 -10.40 L-11.97 -12.14 L-11.97 0.00 M-1.94 -12.14 L-3.61 -11.56 L-4.73 -9.83 L-5.28 -6.94 L-5.28 -5.20 L-4.73 -2.31 L-3.61 -0.58 L-1.94 0.00 L-0.83 0.00 L0.84 -0.58 L1.96 -2.31 L2.51 -5.20 L2.51 -6.94 L1.96 -9.83 L0.84 -11.56 L-0.83 -12.14 L-1.94 -12.14"/><path d="M7.21 -14.50 L7.85 -14.83 L8.81 -15.83 L8.81 -8.85 M13.61 -14.50 L14.25 -14.83 L15.21 -15.83 L15.21 -8.85" stroke-width="1.15"/></g>
<g transform="translate(706.41 334.00)" fill="none" stroke="#000" stroke-width="1.15" stroke-linecap="round" stroke-linejoin="round"><path d="M-14.75 -9.83 L-13.64 -10.40 L-11.97 -12.14 L-11.97 0.00 M-1.94 -12.14 L-3.61 -11.56 L-4.73 -9.83 L-5.28 -6.94 L-5.28 -5.20 L-4.73 -2.31 L-3.61 -0.58 L-1.94 0.00 L-0.83 0.00 L0.84 -0.58 L1.96 -2.31 L2.51 -5.20 L2.51 -6.94 L1.96 -9.83 L0.84 -11.56 L-0.83 -12.14 L-1.94 -12.14"/><path d="M7.21 -14.50 L7.85 -14.83 L8.81 -15.83 L8.81 -8.85 M12.97 -14.17 L12.97 -14.50 L13.29 -15.16 L13.61 -15.50 L14.25 -15.83 L15.53 -15.83 L16.17 -15.50 L16.49 -15.16 L16.81 -14.50 L16.81 -13.84 L16.49 -13.17 L15.85 -12.17 L12.65 -8.85 L17.13 -8.85" stroke-width="1.15"/></g>
<g transform="translate(775.68 334.00)" fill="none" stroke="#000" stroke-width="1.15" stroke-linecap="round" stroke-linejoin="round"><path d="M-14.75 -9.83 L-13.64 -10.40 L-11.97 -12.14 L-11.97 0.00 M-1.94 -12.14 L-3.61 -11.56 L-4.73 -9.83 L-5.28 -6.94 L-5.28 -5.20 L-4.73 -2.31 L-3.61 -0.58 L-1.94 0.00 L-0.83 0.00 L0.84 -0.58 L1.96 -2.31 L2.51 -5.20 L2.51 -6.94 L1.96 -9.83 L0.84 -11.56 L-0.83 -12.14 L-1.94 -12.14"/><path d="M7.21 -14.50 L7.85 -14.83 L8.81 -15.83 L8.81 -8.85 M13.29 -15.83 L16.81 -15.83 L14.89 -13.17 L15.85 -13.17 L16.49 -12.84 L16.81 -12.51 L17.13 -11.51 L17.13 -10.84 L16.81 -9.85 L16.17 -9.18 L15.21 -8.85 L14.25 -8.85 L13.29 -9.18 L12.97 -9.51 L12.65 -10.18" stroke-width="1.15"/></g>
<g transform="translate(485.65 299.20)" fill="none" stroke="#000" stroke-width="1.15" stroke-linecap="round" stroke-linejoin="round"><path d="M-26.44 -9.83 L-25.33 -10.40 L-23.66 -12.14 L-23.66 0.00 M-13.63 -12.14 L-15.30 -11.56 L-16.42 -9.83 L-16.97 -6.94 L-16.97 -5.20 L-16.42 -2.31 L-15.30 -0.58 L-13.63 0.00 L-12.52 0.00 L-10.85 -0.58 L-9.73 -2.31 L-9.18 -5.20 L-9.18 -6.94 L-9.73 -9.83 L-10.85 -11.56 L-12.52 -12.14 L-13.63 -12.14"/><path d="M-3.84 -15.83 L-4.80 -15.50 L-5.12 -14.83 L-5.12 -14.17 L-4.80 -13.50 L-4.16 -13.17 L-2.88 -12.84 L-1.92 -12.51 L-1.28 -11.84 L-0.96 -11.18 L-0.96 -10.18 L-1.28 -9.51 L-1.60 -9.18 L-2.56 -8.85 L-3.84 -8.85 L-4.80 -9.18 L-5.12 -9.51 L-5.44 -10.18 L-5.44 -11.18 L-5.12 -11.84 L-4.48 -12.51 L-3.52 -12.84 L-2.24 -13.17 L-1.60 -13.50 L-1.28 -14.17 L-1.28 -14.83 L-1.60 -15.50 L-2.56 -15.83 L-3.84 -15.83" stroke-width="1.15"/></g>
<g transform="translate(485.65 234.70)" fill="none" stroke="#000" stroke-width="1.15" stroke-linecap="round" stroke-linejoin="round"><path d="M-26.44 -9.83 L-25.33 -10.40 L-23.66 -12.14 L-23.66 0.00 M-13.63 -12.14 L-15.30 -11.56 L-16.42 -9.83 L-16.97 -6.94 L-16.97 -5.20 L-16.42 -2.31 L-15.30 -0.58 L-13.63 0.00 L-12.52 0.00 L-10.85 -0.58 L-9.73 -2.31 L-9.18 -5.20 L-9.18 -6.94 L-9.73 -9.83 L-10.85 -11.56 L-12.52 -12.14 L-13.63 -12.14"/><path d="M-1.28 -13.50 L-1.60 -12.51 L-2.24 -11.84 L-3.20 -11.51 L-3.52 -11.51 L-4.48 -11.84 L-5.12 -12.51 L-5.44 -13.50 L-5.44 -13.84 L-5.12 -14.83 L-4.48 -15.50 L-3.52 -15.83 L-3.20 -15.83 L-2.24 -15.50 L-1.60 -14.83 L-1.28 -13.50 L-1.28 -11.84 L-1.60 -10.18 L-2.24 -9.18 L-3.20 -8.85 L-3.84 -8.85 L-4.80 -9.18 L-5.12 -9.85" stroke-width="1.15"/></g>
<g transform="translate(485.65 170.20)" fill="none" stroke="#000" stroke-width="1.15" stroke-linecap="round" stroke-linejoin="round"><path d="M-32.85 -9.83 L-31.74 -10.40 L-30.06 -12.14 L-30.06 0.00 M-20.04 -12.14 L-21.71 -11.56 L-22.82 -9.83 L-23.38 -6.94 L-23.38 -5.20 L-22.82 -2.31 L-21.71 -0.58 L-20.04 0.00 L-18.92 0.00 L-17.25 -0.58 L-16.14 -2.31 L-15.58 -5.20 L-15.58 -6.94 L-16.14 -9.83 L-17.25 -11.56 L-18.92 -12.14 L-20.04 -12.14"/><path d="M-10.89 -14.50 L-10.25 -14.83 L-9.29 -15.83 L-9.29 -8.85 M-3.52 -15.83 L-4.48 -15.50 L-5.12 -14.50 L-5.44 -12.84 L-5.44 -11.84 L-5.12 -10.18 L-4.48 -9.18 L-3.52 -8.85 L-2.88 -8.85 L-1.92 -9.18 L-1.28 -10.18 L-0.96 -11.84 L-0.96 -12.84 L-1.28 -14.50 L-1.92 -15.50 L-2.88 -15.83 L-3.52 -15.83" stroke-width="1.15"/></g>
<g transform="translate(485.65 105.70)" fill="none" stroke="#000" stroke-width="1.15" stroke-linecap="round" stroke-linejoin="round"><path d="M-32.85 -9.83 L-31.74 -10.40 L-30.06 -12.14 L-30.06 0.00 M-20.04 -12.14 L-21.71 -11.56 L-22.82 -9.83 L-23.38 -6.94 L-23.38 -5.20 L-22.82 -2.31 L-21.71 -0.58 L-20.04 0.00 L-18.92 0.00 L-17.25 -0.58 L-16.14 -2.31 L-15.58 -5.20 L-15.58 -6.94 L-16.14 -9.83 L-17.25 -11.56 L-18.92 -12.14 L-20.04 -12.14"/><path d="M-10.89 -14.50 L-10.25 -14.83 L-9.29 -15.83 L-9.29 -8.85 M-4.48 -14.50 L-3.84 -14.83 L-2.88 -15.83 L-2.88 -8.85" stroke-width="1.15"/></g>
<g transform="translate(485.65 45.80)" fill="none" stroke="#000" stroke-width="1.15" stroke-linecap="round" stroke-linejoin="round"><path d="M-32.85 -9.83 L-31.74 -10.40 L-30.06 -12.14 L-30.06 0.00 M-20.04 -12.14 L-21.71 -11.56 L-22.82 -9.83 L-23.38 -6.94 L-23.38 -5.20 L-22.82 -2.31 L-21.71 -0.58 L-20.04 0.00 L-18.92 0.00 L-17.25 -0.58 L-16.14 -2.31 L-15.58 -5.20 L-15.58 -6.94 L-16.14 -9.83 L-17.25 -11.56 L-18.92 -12.14 L-20.04 -12.14"/><path d="M-10.89 -14.50 L-10.25 -14.83 L-9.29 -15.83 L-9.29 -8.85 M-5.12 -14.17 L-5.12 -14.50 L-4.80 -15.16 L-4.48 -15.50 L-3.84 -15.83 L-2.56 -15.83 L-1.92 -15.50 L-1.60 -15.16 L-1.28 -14.50 L-1.28 -13.84 L-1.60 -13.17 L-2.24 -12.17 L-5.44 -8.85 L-0.96 -8.85" stroke-width="1.15"/></g>
<line x1="502.50" y1="33.85" x2="502.50" y2="308.0" stroke="#222" stroke-width="1"/>
<line x1="565.20" y1="42.85" x2="565.20" y2="308.0" stroke="#444" stroke-width="1" stroke-dasharray="8.0 7.12"/>
<line x1="627.79" y1="36.30" x2="627.79" y2="308.0" stroke="#444" stroke-width="1.05" stroke-dasharray="1.9 3.4"/>
<g transform="translate(510.85 61.25)" fill="none" stroke="#505050" stroke-width="1.0" stroke-linecap="round" stroke-linejoin="round"><path d="M6.08 -6.09 L1.30 0.00 M1.30 -6.09 L6.08 -6.09 M1.30 0.00 L6.08 0.00 M9.11 -5.22 L16.93 -5.22 M9.11 -2.61 L16.93 -2.61 M22.57 -9.13 L21.27 -8.70 L20.40 -7.39 L19.96 -5.22 L19.96 -3.92 L20.40 -1.74 L21.27 -0.43 L22.57 0.00 L23.44 0.00 L24.74 -0.43 L25.61 -1.74 L26.04 -3.92 L26.04 -5.22 L25.61 -7.39 L24.74 -8.70 L23.44 -9.13 L22.57 -9.13 M29.51 -0.87 L29.08 -0.43 L29.51 0.00 L29.95 -0.43 L29.51 -0.87 M35.59 -9.13 L34.29 -8.70 L33.42 -7.39 L32.98 -5.22 L32.98 -3.92 L33.42 -1.74 L34.29 -0.43 L35.59 0.00 L36.46 0.00 L37.76 -0.43 L38.63 -1.74 L39.06 -3.92 L39.06 -5.22 L38.63 -7.39 L37.76 -8.70 L36.46 -9.13 L35.59 -9.13"/></g>
<g transform="translate(644.55 355.40)" fill="none" stroke="#000" stroke-width="1.15" stroke-linecap="round" stroke-linejoin="round"><path d="M-56.83 -10.61 L-56.83 0.00 M-56.83 -10.61 L-52.19 0.00 M-47.55 -10.61 L-52.19 0.00 M-47.55 -10.61 L-47.55 0.00 M-10.56 -13.38 L-10.56 4.80 M-9.98 -13.38 L-9.98 4.80 M-10.56 -13.38 L-6.50 -13.38 M-10.56 4.80 L-6.50 4.80 M-2.44 -10.61 L-2.44 0.00 M-2.44 -10.61 L2.20 0.00 M6.84 -10.61 L2.20 0.00 M6.84 -10.61 L6.84 0.00 M38.85 -12.88 L28.41 4.80 M42.33 -10.61 L42.33 0.00 M42.33 -5.05 L44.07 -6.57 L45.23 -7.07 L46.97 -7.07 L48.13 -6.57 L48.71 -5.05 L48.71 0.00 M56.25 -13.38 L56.25 4.80 M56.83 -13.38 L56.83 4.80 M52.77 -13.38 L56.83 -13.38 M52.77 4.80 L56.83 4.80"/><path d="M-44.09 -2.39 L-44.09 5.30 M-44.09 1.64 L-43.02 0.54 L-42.30 0.17 L-41.22 0.17 L-40.50 0.54 L-40.14 1.64 L-40.14 5.30 M-33.31 0.17 L-33.31 5.30 M-33.31 1.27 L-34.03 0.54 L-34.74 0.17 L-35.82 0.17 L-36.54 0.54 L-37.26 1.27 L-37.62 2.37 L-37.62 3.10 L-37.26 4.20 L-36.54 4.93 L-35.82 5.30 L-34.74 5.30 L-34.03 4.93 L-33.31 4.20 M-30.43 -2.39 L-30.43 5.30 M-26.11 0.17 L-26.83 0.54 L-27.55 1.27 L-27.91 2.37 L-27.91 3.10 L-27.55 4.20 L-26.83 4.93 L-26.11 5.30 L-25.04 5.30 L-24.32 4.93 L-23.60 4.20 L-23.24 3.10 L-23.24 2.37 L-23.60 1.27 L-24.32 0.54 L-25.04 0.17 L-26.11 0.17" stroke-width="1.35"/><ellipse cx="14.09" cy="1.42" rx="3.60" ry="3.85" fill="none" stroke-width="1.35"/><circle cx="14.09" cy="1.42" r="1.05" fill="#000" stroke="none"/></g>
<g transform="translate(431.90 171.53) rotate(-90)" fill="none" stroke="#000" stroke-width="1.15" stroke-linecap="round" stroke-linejoin="round"><path d="M-53.42 -10.61 L-53.42 0.00 M-53.42 -10.61 L-48.78 0.00 M-44.14 -10.61 L-48.78 0.00 M-44.14 -10.61 L-44.14 0.00 M-13.97 -13.38 L-13.97 4.80 M-13.39 -13.38 L-13.39 4.80 M-13.97 -13.38 L-9.91 -13.38 M-13.97 4.80 L-9.91 4.80 M-5.85 -10.61 L-5.85 0.00 M-5.85 -10.61 L-1.21 0.00 M3.43 -10.61 L-1.21 0.00 M3.43 -10.61 L3.43 0.00 M35.44 -12.88 L25.00 4.80 M38.92 -10.61 L38.92 0.00 M38.92 -5.05 L40.66 -6.57 L41.82 -7.07 L43.56 -7.07 L44.72 -6.57 L45.30 -5.05 L45.30 0.00 M52.84 -13.38 L52.84 4.80 M53.42 -13.38 L53.42 4.80 M49.36 -13.38 L53.42 -13.38 M49.36 4.80 L53.42 4.80"/><path d="M-36.72 0.17 L-36.72 6.03 L-37.08 7.13 L-37.44 7.50 L-38.16 7.86 L-39.24 7.86 L-39.96 7.50 M-36.72 1.27 L-37.44 0.54 L-38.16 0.17 L-39.24 0.17 L-39.96 0.54 L-40.68 1.27 L-41.04 2.37 L-41.04 3.10 L-40.68 4.20 L-39.96 4.93 L-39.24 5.30 L-38.16 5.30 L-37.44 4.93 L-36.72 4.20 M-29.89 0.17 L-29.89 5.30 M-29.89 1.27 L-30.61 0.54 L-31.33 0.17 L-32.41 0.17 L-33.13 0.54 L-33.85 1.27 L-34.21 2.37 L-34.21 3.10 L-33.85 4.20 L-33.13 4.93 L-32.41 5.30 L-31.33 5.30 L-30.61 4.93 L-29.89 4.20 M-27.01 -2.39 L-27.01 5.30" stroke-width="1.35"/><ellipse cx="10.67" cy="1.42" rx="3.60" ry="3.85" fill="none" stroke-width="1.35"/><circle cx="10.67" cy="1.42" r="1.05" fill="#000" stroke="none"/></g>
<path d="M76.55000000000001 411.85 H382.45000000000005" fill="none" stroke="#000" stroke-width="1.8" stroke-linecap="round"/>
<path d="M76.55000000000001 686.0 H382.45000000000005" fill="none" stroke="#000" stroke-width="2.0" stroke-linecap="round"/>
<path d="M76.4 411.85 V686.0 M382.6 411.85 V686.0" fill="none" stroke="#000" stroke-width="1.75" stroke-linecap="round"/>
<path d="M80.36 686.0 v-3.30 M80.36 411.85 v2.45 M84.00 686.0 v-6.00 M84.00 411.85 v5.15 M107.98 686.0 v-3.30 M107.98 411.85 v2.45 M122.00 686.0 v-3.30 M122.00 411.85 v2.45 M131.95 686.0 v-3.30 M131.95 411.85 v2.45 M139.67 686.0 v-3.30 M139.67 411.85 v2.45 M145.98 686.0 v-3.30 M145.98 411.85 v2.45 M151.31 686.0 v-3.30 M151.31 411.85 v2.45 M155.93 686.0 v-3.30 M155.93 411.85 v2.45 M160.01 686.0 v-3.30 M160.01 411.85 v2.45 M163.65 686.0 v-6.00 M163.65 411.85 v5.15 M187.63 686.0 v-3.30 M187.63 411.85 v2.45 M201.65 686.0 v-3.30 M201.65 411.85 v2.45 M211.60 686.0 v-3.30 M211.60 411.85 v2.45 M219.32 686.0 v-3.30 M219.32 411.85 v2.45 M225.63 686.0 v-3.30 M225.63 411.85 v2.45 M230.96 686.0 v-3.30 M230.96 411.85 v2.45 M235.58 686.0 v-3.30 M235.58 411.85 v2.45 M239.66 686.0 v-3.30 M239.66 411.85 v2.45 M243.30 686.0 v-6.00 M243.30 411.85 v5.15 M267.28 686.0 v-3.30 M267.28 411.85 v2.45 M281.30 686.0 v-3.30 M281.30 411.85 v2.45 M291.25 686.0 v-3.30 M291.25 411.85 v2.45 M298.97 686.0 v-3.30 M298.97 411.85 v2.45 M305.28 686.0 v-3.30 M305.28 411.85 v2.45 M310.61 686.0 v-3.30 M310.61 411.85 v2.45 M315.23 686.0 v-3.30 M315.23 411.85 v2.45 M319.31 686.0 v-3.30 M319.31 411.85 v2.45 M322.95 686.0 v-6.00 M322.95 411.85 v5.15 M346.93 686.0 v-3.30 M346.93 411.85 v2.45 M360.95 686.0 v-3.30 M360.95 411.85 v2.45 M370.90 686.0 v-3.30 M370.90 411.85 v2.45 M378.62 686.0 v-3.30 M378.62 411.85 v2.45 M76.4 684.28 h2.9 M382.6 684.28 h-2.9 M76.4 679.31 h2.9 M382.6 679.31 h-2.9 M76.4 675.00 h2.9 M382.6 675.00 h-2.9 M76.4 671.20 h2.9 M382.6 671.20 h-2.9 M76.4 667.80 h6.199999999999999 M382.6 667.80 h-6.199999999999999 M76.4 645.43 h2.9 M382.6 645.43 h-2.9 M76.4 632.35 h2.9 M382.6 632.35 h-2.9 M76.4 623.07 h2.9 M382.6 623.07 h-2.9 M76.4 615.87 h2.9 M382.6 615.87 h-2.9 M76.4 609.98 h2.9 M382.6 609.98 h-2.9 M76.4 605.01 h2.9 M382.6 605.01 h-2.9 M76.4 600.70 h2.9 M382.6 600.70 h-2.9 M76.4 596.90 h2.9 M382.6 596.90 h-2.9 M76.4 593.50 h6.199999999999999 M382.6 593.50 h-6.199999999999999 M76.4 571.13 h2.9 M382.6 571.13 h-2.9 M76.4 558.05 h2.9 M382.6 558.05 h-2.9 M76.4 548.77 h2.9 M382.6 548.77 h-2.9 M76.4 541.57 h2.9 M382.6 541.57 h-2.9 M76.4 535.68 h2.9 M382.6 535.68 h-2.9 M76.4 530.71 h2.9 M382.6 530.71 h-2.9 M76.4 526.40 h2.9 M382.6 526.40 h-2.9 M76.4 522.60 h2.9 M382.6 522.60 h-2.9 M76.4 519.20 h6.199999999999999 M382.6 519.20 h-6.199999999999999 M76.4 496.83 h2.9 M382.6 496.83 h-2.9 M76.4 483.75 h2.9 M382.6 483.75 h-2.9 M76.4 474.47 h2.9 M382.6 474.47 h-2.9 M76.4 467.27 h2.9 M382.6 467.27 h-2.9 M76.4 461.38 h2.9 M382.6 461.38 h-2.9 M76.4 456.41 h2.9 M382.6 456.41 h-2.9 M76.4 452.10 h2.9 M382.6 452.10 h-2.9 M76.4 448.30 h2.9 M382.6 448.30 h-2.9 M76.4 444.90 h6.199999999999999 M382.6 444.90 h-6.199999999999999 M76.4 422.53 h2.9 M382.6 422.53 h-2.9" stroke="#000" stroke-width="1.8" fill="none"/>
<g transform="translate(84.00 712.00)" fill="none" stroke="#000" stroke-width="1.15" stroke-linecap="round" stroke-linejoin="round"><path d="M-11.55 -9.83 L-10.44 -10.40 L-8.77 -12.14 L-8.77 0.00 M1.26 -12.14 L-0.41 -11.56 L-1.52 -9.83 L-2.08 -6.94 L-2.08 -5.20 L-1.52 -2.31 L-0.41 -0.58 L1.26 0.00 L2.37 0.00 L4.05 -0.58 L5.16 -2.31 L5.72 -5.20 L5.72 -6.94 L5.16 -9.83 L4.05 -11.56 L2.37 -12.14 L1.26 -12.14"/><path d="M13.61 -13.50 L13.29 -12.51 L12.65 -11.84 L11.69 -11.51 L11.37 -11.51 L10.41 -11.84 L9.77 -12.51 L9.45 -13.50 L9.45 -13.84 L9.77 -14.83 L10.41 -15.50 L11.37 -15.83 L11.69 -15.83 L12.65 -15.50 L13.29 -14.83 L13.61 -13.50 L13.61 -11.84 L13.29 -10.18 L12.65 -9.18 L11.69 -8.85 L11.05 -8.85 L10.09 -9.18 L9.77 -9.85" stroke-width="1.15"/></g>
<g transform="translate(163.65 712.00)" fill="none" stroke="#000" stroke-width="1.15" stroke-linecap="round" stroke-linejoin="round"><path d="M-14.75 -9.83 L-13.64 -10.40 L-11.97 -12.14 L-11.97 0.00 M-1.94 -12.14 L-3.61 -11.56 L-4.73 -9.83 L-5.28 -6.94 L-5.28 -5.20 L-4.73 -2.31 L-3.61 -0.58 L-1.94 0.00 L-0.83 0.00 L0.84 -0.58 L1.96 -2.31 L2.51 -5.20 L2.51 -6.94 L1.96 -9.83 L0.84 -11.56 L-0.83 -12.14 L-1.94 -12.14"/><path d="M7.21 -14.50 L7.85 -14.83 L8.81 -15.83 L8.81 -8.85 M14.57 -15.83 L13.61 -15.50 L12.97 -14.50 L12.65 -12.84 L12.65 -11.84 L12.97 -10.18 L13.61 -9.18 L14.57 -8.85 L15.21 -8.85 L16.17 -9.18 L16.81 -10.18 L17.13 -11.84 L17.13 -12.84 L16.81 -14.50 L16.17 -15.50 L15.21 -15.83 L14.57 -15.83" stroke-width="1.15"/></g>
<g transform="translate(243.30 712.00)" fill="none" stroke="#000" stroke-width="1.15" stroke-linecap="round" stroke-linejoin="round"><path d="M-14.75 -9.83 L-13.64 -10.40 L-11.97 -12.14 L-11.97 0.00 M-1.94 -12.14 L-3.61 -11.56 L-4.73 -9.83 L-5.28 -6.94 L-5.28 -5.20 L-4.73 -2.31 L-3.61 -0.58 L-1.94 0.00 L-0.83 0.00 L0.84 -0.58 L1.96 -2.31 L2.51 -5.20 L2.51 -6.94 L1.96 -9.83 L0.84 -11.56 L-0.83 -12.14 L-1.94 -12.14"/><path d="M7.21 -14.50 L7.85 -14.83 L8.81 -15.83 L8.81 -8.85 M13.61 -14.50 L14.25 -14.83 L15.21 -15.83 L15.21 -8.85" stroke-width="1.15"/></g>
<g transform="translate(322.95 712.00)" fill="none" stroke="#000" stroke-width="1.15" stroke-linecap="round" stroke-linejoin="round"><path d="M-14.75 -9.83 L-13.64 -10.40 L-11.97 -12.14 L-11.97 0.00 M-1.94 -12.14 L-3.61 -11.56 L-4.73 -9.83 L-5.28 -6.94 L-5.28 -5.20 L-4.73 -2.31 L-3.61 -0.58 L-1.94 0.00 L-0.83 0.00 L0.84 -0.58 L1.96 -2.31 L2.51 -5.20 L2.51 -6.94 L1.96 -9.83 L0.84 -11.56 L-0.83 -12.14 L-1.94 -12.14"/><path d="M7.21 -14.50 L7.85 -14.83 L8.81 -15.83 L8.81 -8.85 M12.97 -14.17 L12.97 -14.50 L13.29 -15.16 L13.61 -15.50 L14.25 -15.83 L15.53 -15.83 L16.17 -15.50 L16.49 -15.16 L16.81 -14.50 L16.81 -13.84 L16.49 -13.17 L15.85 -12.17 L12.65 -8.85 L17.13 -8.85" stroke-width="1.15"/></g>
<g transform="translate(70.05 674.70)" fill="none" stroke="#000" stroke-width="1.15" stroke-linecap="round" stroke-linejoin="round"><path d="M-26.44 -9.83 L-25.33 -10.40 L-23.66 -12.14 L-23.66 0.00 M-13.63 -12.14 L-15.30 -11.56 L-16.42 -9.83 L-16.97 -6.94 L-16.97 -5.20 L-16.42 -2.31 L-15.30 -0.58 L-13.63 0.00 L-12.52 0.00 L-10.85 -0.58 L-9.73 -2.31 L-9.18 -5.20 L-9.18 -6.94 L-9.73 -9.83 L-10.85 -11.56 L-12.52 -12.14 L-13.63 -12.14"/><path d="M-3.84 -15.83 L-4.80 -15.50 L-5.12 -14.83 L-5.12 -14.17 L-4.80 -13.50 L-4.16 -13.17 L-2.88 -12.84 L-1.92 -12.51 L-1.28 -11.84 L-0.96 -11.18 L-0.96 -10.18 L-1.28 -9.51 L-1.60 -9.18 L-2.56 -8.85 L-3.84 -8.85 L-4.80 -9.18 L-5.12 -9.51 L-5.44 -10.18 L-5.44 -11.18 L-5.12 -11.84 L-4.48 -12.51 L-3.52 -12.84 L-2.24 -13.17 L-1.60 -13.50 L-1.28 -14.17 L-1.28 -14.83 L-1.60 -15.50 L-2.56 -15.83 L-3.84 -15.83" stroke-width="1.15"/></g>
<g transform="translate(70.05 600.40)" fill="none" stroke="#000" stroke-width="1.15" stroke-linecap="round" stroke-linejoin="round"><path d="M-26.44 -9.83 L-25.33 -10.40 L-23.66 -12.14 L-23.66 0.00 M-13.63 -12.14 L-15.30 -11.56 L-16.42 -9.83 L-16.97 -6.94 L-16.97 -5.20 L-16.42 -2.31 L-15.30 -0.58 L-13.63 0.00 L-12.52 0.00 L-10.85 -0.58 L-9.73 -2.31 L-9.18 -5.20 L-9.18 -6.94 L-9.73 -9.83 L-10.85 -11.56 L-12.52 -12.14 L-13.63 -12.14"/><path d="M-1.28 -13.50 L-1.60 -12.51 L-2.24 -11.84 L-3.20 -11.51 L-3.52 -11.51 L-4.48 -11.84 L-5.12 -12.51 L-5.44 -13.50 L-5.44 -13.84 L-5.12 -14.83 L-4.48 -15.50 L-3.52 -15.83 L-3.20 -15.83 L-2.24 -15.50 L-1.60 -14.83 L-1.28 -13.50 L-1.28 -11.84 L-1.60 -10.18 L-2.24 -9.18 L-3.20 -8.85 L-3.84 -8.85 L-4.80 -9.18 L-5.12 -9.85" stroke-width="1.15"/></g>
<g transform="translate(70.05 526.10)" fill="none" stroke="#000" stroke-width="1.15" stroke-linecap="round" stroke-linejoin="round"><path d="M-32.85 -9.83 L-31.74 -10.40 L-30.06 -12.14 L-30.06 0.00 M-20.04 -12.14 L-21.71 -11.56 L-22.82 -9.83 L-23.38 -6.94 L-23.38 -5.20 L-22.82 -2.31 L-21.71 -0.58 L-20.04 0.00 L-18.92 0.00 L-17.25 -0.58 L-16.14 -2.31 L-15.58 -5.20 L-15.58 -6.94 L-16.14 -9.83 L-17.25 -11.56 L-18.92 -12.14 L-20.04 -12.14"/><path d="M-10.89 -14.50 L-10.25 -14.83 L-9.29 -15.83 L-9.29 -8.85 M-3.52 -15.83 L-4.48 -15.50 L-5.12 -14.50 L-5.44 -12.84 L-5.44 -11.84 L-5.12 -10.18 L-4.48 -9.18 L-3.52 -8.85 L-2.88 -8.85 L-1.92 -9.18 L-1.28 -10.18 L-0.96 -11.84 L-0.96 -12.84 L-1.28 -14.50 L-1.92 -15.50 L-2.88 -15.83 L-3.52 -15.83" stroke-width="1.15"/></g>
<g transform="translate(70.05 451.80)" fill="none" stroke="#000" stroke-width="1.15" stroke-linecap="round" stroke-linejoin="round"><path d="M-32.85 -9.83 L-31.74 -10.40 L-30.06 -12.14 L-30.06 0.00 M-20.04 -12.14 L-21.71 -11.56 L-22.82 -9.83 L-23.38 -6.94 L-23.38 -5.20 L-22.82 -2.31 L-21.71 -0.58 L-20.04 0.00 L-18.92 0.00 L-17.25 -0.58 L-16.14 -2.31 L-15.58 -5.20 L-15.58 -6.94 L-16.14 -9.83 L-17.25 -11.56 L-18.92 -12.14 L-20.04 -12.14"/><path d="M-10.89 -14.50 L-10.25 -14.83 L-9.29 -15.83 L-9.29 -8.85 M-4.48 -14.50 L-3.84 -14.83 L-2.88 -15.83 L-2.88 -8.85" stroke-width="1.15"/></g>
<line x1="88.50" y1="411.85" x2="88.50" y2="686.0" stroke="#222" stroke-width="1"/>
<line x1="160.58" y1="420.85" x2="160.58" y2="686.0" stroke="#000" stroke-width="1" stroke-dasharray="8.0 7.12"/>
<line x1="232.55" y1="414.30" x2="232.55" y2="686.0" stroke="#000" stroke-width="1.05" stroke-dasharray="1.9 3.4"/>
<g transform="translate(98.05 439.25)" fill="none" stroke="#505050" stroke-width="1.0" stroke-linecap="round" stroke-linejoin="round"><path d="M6.08 -6.09 L1.30 0.00 M1.30 -6.09 L6.08 -6.09 M1.30 0.00 L6.08 0.00 M9.11 -5.22 L16.93 -5.22 M9.11 -2.61 L16.93 -2.61 M20.40 -6.96 L20.40 -7.39 L20.83 -8.27 L21.27 -8.70 L22.13 -9.13 L23.87 -9.13 L24.74 -8.70 L25.17 -8.27 L25.61 -7.39 L25.61 -6.53 L25.17 -5.66 L24.30 -4.35 L19.96 0.00 L26.04 0.00 M29.51 -0.87 L29.08 -0.43 L29.51 0.00 L29.95 -0.43 L29.51 -0.87 M35.59 -9.13 L34.29 -8.70 L33.42 -7.39 L32.98 -5.22 L32.98 -3.92 L33.42 -1.74 L34.29 -0.43 L35.59 0.00 L36.46 0.00 L37.76 -0.43 L38.63 -1.74 L39.06 -3.92 L39.06 -5.22 L38.63 -7.39 L37.76 -8.70 L36.46 -9.13 L35.59 -9.13"/></g>
<g transform="translate(228.90 733.40)" fill="none" stroke="#000" stroke-width="1.15" stroke-linecap="round" stroke-linejoin="round"><path d="M-56.83 -10.61 L-56.83 0.00 M-56.83 -10.61 L-52.19 0.00 M-47.55 -10.61 L-52.19 0.00 M-47.55 -10.61 L-47.55 0.00 M-10.56 -13.38 L-10.56 4.80 M-9.98 -13.38 L-9.98 4.80 M-10.56 -13.38 L-6.50 -13.38 M-10.56 4.80 L-6.50 4.80 M-2.44 -10.61 L-2.44 0.00 M-2.44 -10.61 L2.20 0.00 M6.84 -10.61 L2.20 0.00 M6.84 -10.61 L6.84 0.00 M38.85 -12.88 L28.41 4.80 M42.33 -10.61 L42.33 0.00 M42.33 -5.05 L44.07 -6.57 L45.23 -7.07 L46.97 -7.07 L48.13 -6.57 L48.71 -5.05 L48.71 0.00 M56.25 -13.38 L56.25 4.80 M56.83 -13.38 L56.83 4.80 M52.77 -13.38 L56.83 -13.38 M52.77 4.80 L56.83 4.80"/><path d="M-44.09 -2.39 L-44.09 5.30 M-44.09 1.64 L-43.02 0.54 L-42.30 0.17 L-41.22 0.17 L-40.50 0.54 L-40.14 1.64 L-40.14 5.30 M-33.31 0.17 L-33.31 5.30 M-33.31 1.27 L-34.03 0.54 L-34.74 0.17 L-35.82 0.17 L-36.54 0.54 L-37.26 1.27 L-37.62 2.37 L-37.62 3.10 L-37.26 4.20 L-36.54 4.93 L-35.82 5.30 L-34.74 5.30 L-34.03 4.93 L-33.31 4.20 M-30.43 -2.39 L-30.43 5.30 M-26.11 0.17 L-26.83 0.54 L-27.55 1.27 L-27.91 2.37 L-27.91 3.10 L-27.55 4.20 L-26.83 4.93 L-26.11 5.30 L-25.04 5.30 L-24.32 4.93 L-23.60 4.20 L-23.24 3.10 L-23.24 2.37 L-23.60 1.27 L-24.32 0.54 L-25.04 0.17 L-26.11 0.17" stroke-width="1.35"/><ellipse cx="14.09" cy="1.42" rx="3.60" ry="3.85" fill="none" stroke-width="1.35"/><circle cx="14.09" cy="1.42" r="1.05" fill="#000" stroke="none"/></g>
<g transform="translate(16.30 549.52) rotate(-90)" fill="none" stroke="#000" stroke-width="1.15" stroke-linecap="round" stroke-linejoin="round"><path d="M-47.90 -10.61 L-47.90 0.00 M-47.90 -10.61 L-43.26 0.00 M-38.62 -10.61 L-43.26 0.00 M-38.62 -10.61 L-38.62 0.00 M-19.49 -13.38 L-19.49 4.80 M-18.91 -13.38 L-18.91 4.80 M-19.49 -13.38 L-15.43 -13.38 M-19.49 4.80 L-15.43 4.80 M-11.37 -10.61 L-11.37 0.00 M-11.37 -10.61 L-6.73 0.00 M-2.09 -10.61 L-6.73 0.00 M-2.09 -10.61 L-2.09 0.00 M29.92 -12.88 L19.48 4.80 M33.40 -10.61 L33.40 0.00 M33.40 -5.05 L35.14 -6.57 L36.30 -7.07 L38.04 -7.07 L39.20 -6.57 L39.78 -5.05 L39.78 0.00 M47.32 -13.38 L47.32 4.80 M47.90 -13.38 L47.90 4.80 M43.84 -13.38 L47.90 -13.38 M43.84 4.80 L47.90 4.80"/><polygon points="-33.50,-0.37 -32.81,1.03 -31.27,1.25 -32.39,2.34 -32.12,3.88 -33.50,3.16 -34.89,3.88 -34.62,2.34 -35.74,1.25 -34.19,1.03" fill="#000" stroke="#000" stroke-width="0.5"/><ellipse cx="5.15" cy="1.42" rx="3.60" ry="3.85" fill="none" stroke-width="1.35"/><circle cx="5.15" cy="1.42" r="1.05" fill="#000" stroke="none"/></g>
<path d="M492.15 411.85 H798.15" fill="none" stroke="#000" stroke-width="1.8" stroke-linecap="round"/>
<path d="M492.15 686.0 H798.15" fill="none" stroke="#000" stroke-width="2.0" stroke-linecap="round"/>
<path d="M492.0 411.85 V686.0 M798.3 411.85 V686.0" fill="none" stroke="#000" stroke-width="1.75" stroke-linecap="round"/>
<path d="M495.43 686.0 v-3.30 M495.43 411.85 v2.45 M498.60 686.0 v-6.00 M498.60 411.85 v5.15 M519.45 686.0 v-3.30 M519.45 411.85 v2.45 M531.65 686.0 v-3.30 M531.65 411.85 v2.45 M540.30 686.0 v-3.30 M540.30 411.85 v2.45 M547.02 686.0 v-3.30 M547.02 411.85 v2.45 M552.50 686.0 v-3.30 M552.50 411.85 v2.45 M557.14 686.0 v-3.30 M557.14 411.85 v2.45 M561.16 686.0 v-3.30 M561.16 411.85 v2.45 M564.70 686.0 v-3.30 M564.70 411.85 v2.45 M567.87 686.0 v-6.00 M567.87 411.85 v5.15 M588.72 686.0 v-3.30 M588.72 411.85 v2.45 M600.92 686.0 v-3.30 M600.92 411.85 v2.45 M609.57 686.0 v-3.30 M609.57 411.85 v2.45 M616.29 686.0 v-3.30 M616.29 411.85 v2.45 M621.77 686.0 v-3.30 M621.77 411.85 v2.45 M626.41 686.0 v-3.30 M626.41 411.85 v2.45 M630.43 686.0 v-3.30 M630.43 411.85 v2.45 M633.97 686.0 v-3.30 M633.97 411.85 v2.45 M637.14 686.0 v-6.00 M637.14 411.85 v5.15 M657.99 686.0 v-3.30 M657.99 411.85 v2.45 M670.19 686.0 v-3.30 M670.19 411.85 v2.45 M678.84 686.0 v-3.30 M678.84 411.85 v2.45 M685.56 686.0 v-3.30 M685.56 411.85 v2.45 M691.04 686.0 v-3.30 M691.04 411.85 v2.45 M695.68 686.0 v-3.30 M695.68 411.85 v2.45 M699.70 686.0 v-3.30 M699.70 411.85 v2.45 M703.24 686.0 v-3.30 M703.24 411.85 v2.45 M706.41 686.0 v-6.00 M706.41 411.85 v5.15 M727.26 686.0 v-3.30 M727.26 411.85 v2.45 M739.46 686.0 v-3.30 M739.46 411.85 v2.45 M748.11 686.0 v-3.30 M748.11 411.85 v2.45 M754.83 686.0 v-3.30 M754.83 411.85 v2.45 M760.31 686.0 v-3.30 M760.31 411.85 v2.45 M764.95 686.0 v-3.30 M764.95 411.85 v2.45 M768.97 686.0 v-3.30 M768.97 411.85 v2.45 M772.51 686.0 v-3.30 M772.51 411.85 v2.45 M775.68 686.0 v-6.00 M775.68 411.85 v5.15 M796.53 686.0 v-3.30 M796.53 411.85 v2.45 M492.0 684.61 h2.9 M798.3 684.61 h-2.9 M492.0 680.29 h2.9 M798.3 680.29 h-2.9 M492.0 676.55 h2.9 M798.3 676.55 h-2.9 M492.0 673.25 h2.9 M798.3 673.25 h-2.9 M492.0 670.30 h6.199999999999999 M798.3 670.30 h-6.199999999999999 M492.0 650.88 h2.9 M798.3 650.88 h-2.9 M492.0 639.53 h2.9 M798.3 639.53 h-2.9 M492.0 631.47 h2.9 M798.3 631.47 h-2.9 M492.0 625.22 h2.9 M798.3 625.22 h-2.9 M492.0 620.11 h2.9 M798.3 620.11 h-2.9 M492.0 615.79 h2.9 M798.3 615.79 h-2.9 M492.0 612.05 h2.9 M798.3 612.05 h-2.9 M492.0 608.75 h2.9 M798.3 608.75 h-2.9 M492.0 605.80 h6.199999999999999 M798.3 605.80 h-6.199999999999999 M492.0 586.38 h2.9 M798.3 586.38 h-2.9 M492.0 575.03 h2.9 M798.3 575.03 h-2.9 M492.0 566.97 h2.9 M798.3 566.97 h-2.9 M492.0 560.72 h2.9 M798.3 560.72 h-2.9 M492.0 555.61 h2.9 M798.3 555.61 h-2.9 M492.0 551.29 h2.9 M798.3 551.29 h-2.9 M492.0 547.55 h2.9 M798.3 547.55 h-2.9 M492.0 544.25 h2.9 M798.3 544.25 h-2.9 M492.0 541.30 h6.199999999999999 M798.3 541.30 h-6.199999999999999 M492.0 521.88 h2.9 M798.3 521.88 h-2.9 M492.0 510.53 h2.9 M798.3 510.53 h-2.9 M492.0 502.47 h2.9 M798.3 502.47 h-2.9 M492.0 496.22 h2.9 M798.3 496.22 h-2.9 M492.0 491.11 h2.9 M798.3 491.11 h-2.9 M492.0 486.79 h2.9 M798.3 486.79 h-2.9 M492.0 483.05 h2.9 M798.3 483.05 h-2.9 M492.0 479.75 h2.9 M798.3 479.75 h-2.9 M492.0 476.80 h6.199999999999999 M798.3 476.80 h-6.199999999999999 M492.0 457.38 h2.9 M798.3 457.38 h-2.9 M492.0 446.03 h2.9 M798.3 446.03 h-2.9 M492.0 437.97 h2.9 M798.3 437.97 h-2.9 M492.0 431.72 h2.9 M798.3 431.72 h-2.9 M492.0 426.61 h2.9 M798.3 426.61 h-2.9 M492.0 422.29 h2.9 M798.3 422.29 h-2.9 M492.0 418.55 h2.9 M798.3 418.55 h-2.9 M492.0 415.25 h2.9 M798.3 415.25 h-2.9" stroke="#000" stroke-width="1.8" fill="none"/>
<g transform="translate(498.60 712.00)" fill="none" stroke="#000" stroke-width="1.15" stroke-linecap="round" stroke-linejoin="round"><path d="M-11.55 -9.83 L-10.44 -10.40 L-8.77 -12.14 L-8.77 0.00 M1.26 -12.14 L-0.41 -11.56 L-1.52 -9.83 L-2.08 -6.94 L-2.08 -5.20 L-1.52 -2.31 L-0.41 -0.58 L1.26 0.00 L2.37 0.00 L4.05 -0.58 L5.16 -2.31 L5.72 -5.20 L5.72 -6.94 L5.16 -9.83 L4.05 -11.56 L2.37 -12.14 L1.26 -12.14"/><path d="M13.61 -13.50 L13.29 -12.51 L12.65 -11.84 L11.69 -11.51 L11.37 -11.51 L10.41 -11.84 L9.77 -12.51 L9.45 -13.50 L9.45 -13.84 L9.77 -14.83 L10.41 -15.50 L11.37 -15.83 L11.69 -15.83 L12.65 -15.50 L13.29 -14.83 L13.61 -13.50 L13.61 -11.84 L13.29 -10.18 L12.65 -9.18 L11.69 -8.85 L11.05 -8.85 L10.09 -9.18 L9.77 -9.85" stroke-width="1.15"/></g>
<g transform="translate(567.87 712.00)" fill="none" stroke="#000" stroke-width="1.15" stroke-linecap="round" stroke-linejoin="round"><path d="M-14.75 -9.83 L-13.64 -10.40 L-11.97 -12.14 L-11.97 0.00 M-1.94 -12.14 L-3.61 -11.56 L-4.73 -9.83 L-5.28 -6.94 L-5.28 -5.20 L-4.73 -2.31 L-3.61 -0.58 L-1.94 0.00 L-0.83 0.00 L0.84 -0.58 L1.96 -2.31 L2.51 -5.20 L2.51 -6.94 L1.96 -9.83 L0.84 -11.56 L-0.83 -12.14 L-1.94 -12.14"/><path d="M7.21 -14.50 L7.85 -14.83 L8.81 -15.83 L8.81 -8.85 M14.57 -15.83 L13.61 -15.50 L12.97 -14.50 L12.65 -12.84 L12.65 -11.84 L12.97 -10.18 L13.61 -9.18 L14.57 -8.85 L15.21 -8.85 L16.17 -9.18 L16.81 -10.18 L17.13 -11.84 L17.13 -12.84 L16.81 -14.50 L16.17 -15.50 L15.21 -15.83 L14.57 -15.83" stroke-width="1.15"/></g>
<g transform="translate(637.14 712.00)" fill="none" stroke="#000" stroke-width="1.15" stroke-linecap="round" stroke-linejoin="round"><path d="M-14.75 -9.83 L-13.64 -10.40 L-11.97 -12.14 L-11.97 0.00 M-1.94 -12.14 L-3.61 -11.56 L-4.73 -9.83 L-5.28 -6.94 L-5.28 -5.20 L-4.73 -2.31 L-3.61 -0.58 L-1.94 0.00 L-0.83 0.00 L0.84 -0.58 L1.96 -2.31 L2.51 -5.20 L2.51 -6.94 L1.96 -9.83 L0.84 -11.56 L-0.83 -12.14 L-1.94 -12.14"/><path d="M7.21 -14.50 L7.85 -14.83 L8.81 -15.83 L8.81 -8.85 M13.61 -14.50 L14.25 -14.83 L15.21 -15.83 L15.21 -8.85" stroke-width="1.15"/></g>
<g transform="translate(706.41 712.00)" fill="none" stroke="#000" stroke-width="1.15" stroke-linecap="round" stroke-linejoin="round"><path d="M-14.75 -9.83 L-13.64 -10.40 L-11.97 -12.14 L-11.97 0.00 M-1.94 -12.14 L-3.61 -11.56 L-4.73 -9.83 L-5.28 -6.94 L-5.28 -5.20 L-4.73 -2.31 L-3.61 -0.58 L-1.94 0.00 L-0.83 0.00 L0.84 -0.58 L1.96 -2.31 L2.51 -5.20 L2.51 -6.94 L1.96 -9.83 L0.84 -11.56 L-0.83 -12.14 L-1.94 -12.14"/><path d="M7.21 -14.50 L7.85 -14.83 L8.81 -15.83 L8.81 -8.85 M12.97 -14.17 L12.97 -14.50 L13.29 -15.16 L13.61 -15.50 L14.25 -15.83 L15.53 -15.83 L16.17 -15.50 L16.49 -15.16 L16.81 -14.50 L16.81 -13.84 L16.49 -13.17 L15.85 -12.17 L12.65 -8.85 L17.13 -8.85" stroke-width="1.15"/></g>
<g transform="translate(775.68 712.00)" fill="none" stroke="#000" stroke-width="1.15" stroke-linecap="round" stroke-linejoin="round"><path d="M-14.75 -9.83 L-13.64 -10.40 L-11.97 -12.14 L-11.97 0.00 M-1.94 -12.14 L-3.61 -11.56 L-4.73 -9.83 L-5.28 -6.94 L-5.28 -5.20 L-4.73 -2.31 L-3.61 -0.58 L-1.94 0.00 L-0.83 0.00 L0.84 -0.58 L1.96 -2.31 L2.51 -5.20 L2.51 -6.94 L1.96 -9.83 L0.84 -11.56 L-0.83 -12.14 L-1.94 -12.14"/><path d="M7.21 -14.50 L7.85 -14.83 L8.81 -15.83 L8.81 -8.85 M13.29 -15.83 L16.81 -15.83 L14.89 -13.17 L15.85 -13.17 L16.49 -12.84 L16.81 -12.51 L17.13 -11.51 L17.13 -10.84 L16.81 -9.85 L16.17 -9.18 L15.21 -8.85 L14.25 -8.85 L13.29 -9.18 L12.97 -9.51 L12.65 -10.18" stroke-width="1.15"/></g>
<g transform="translate(485.65 677.20)" fill="none" stroke="#000" stroke-width="1.15" stroke-linecap="round" stroke-linejoin="round"><path d="M-26.44 -9.83 L-25.33 -10.40 L-23.66 -12.14 L-23.66 0.00 M-13.63 -12.14 L-15.30 -11.56 L-16.42 -9.83 L-16.97 -6.94 L-16.97 -5.20 L-16.42 -2.31 L-15.30 -0.58 L-13.63 0.00 L-12.52 0.00 L-10.85 -0.58 L-9.73 -2.31 L-9.18 -5.20 L-9.18 -6.94 L-9.73 -9.83 L-10.85 -11.56 L-12.52 -12.14 L-13.63 -12.14"/><path d="M-3.84 -15.83 L-4.80 -15.50 L-5.12 -14.83 L-5.12 -14.17 L-4.80 -13.50 L-4.16 -13.17 L-2.88 -12.84 L-1.92 -12.51 L-1.28 -11.84 L-0.96 -11.18 L-0.96 -10.18 L-1.28 -9.51 L-1.60 -9.18 L-2.56 -8.85 L-3.84 -8.85 L-4.80 -9.18 L-5.12 -9.51 L-5.44 -10.18 L-5.44 -11.18 L-5.12 -11.84 L-4.48 -12.51 L-3.52 -12.84 L-2.24 -13.17 L-1.60 -13.50 L-1.28 -14.17 L-1.28 -14.83 L-1.60 -15.50 L-2.56 -15.83 L-3.84 -15.83" stroke-width="1.15"/></g>
<g transform="translate(485.65 612.70)" fill="none" stroke="#000" stroke-width="1.15" stroke-linecap="round" stroke-linejoin="round"><path d="M-26.44 -9.83 L-25.33 -10.40 L-23.66 -12.14 L-23.66 0.00 M-13.63 -12.14 L-15.30 -11.56 L-16.42 -9.83 L-16.97 -6.94 L-16.97 -5.20 L-16.42 -2.31 L-15.30 -0.58 L-13.63 0.00 L-12.52 0.00 L-10.85 -0.58 L-9.73 -2.31 L-9.18 -5.20 L-9.18 -6.94 L-9.73 -9.83 L-10.85 -11.56 L-12.52 -12.14 L-13.63 -12.14"/><path d="M-1.28 -13.50 L-1.60 -12.51 L-2.24 -11.84 L-3.20 -11.51 L-3.52 -11.51 L-4.48 -11.84 L-5.12 -12.51 L-5.44 -13.50 L-5.44 -13.84 L-5.12 -14.83 L-4.48 -15.50 L-3.52 -15.83 L-3.20 -15.83 L-2.24 -15.50 L-1.60 -14.83 L-1.28 -13.50 L-1.28 -11.84 L-1.60 -10.18 L-2.24 -9.18 L-3.20 -8.85 L-3.84 -8.85 L-4.80 -9.18 L-5.12 -9.85" stroke-width="1.15"/></g>
<g transform="translate(485.65 548.20)" fill="none" stroke="#000" stroke-width="1.15" stroke-linecap="round" stroke-linejoin="round"><path d="M-32.85 -9.83 L-31.74 -10.40 L-30.06 -12.14 L-30.06 0.00 M-20.04 -12.14 L-21.71 -11.56 L-22.82 -9.83 L-23.38 -6.94 L-23.38 -5.20 L-22.82 -2.31 L-21.71 -0.58 L-20.04 0.00 L-18.92 0.00 L-17.25 -0.58 L-16.14 -2.31 L-15.58 -5.20 L-15.58 -6.94 L-16.14 -9.83 L-17.25 -11.56 L-18.92 -12.14 L-20.04 -12.14"/><path d="M-10.89 -14.50 L-10.25 -14.83 L-9.29 -15.83 L-9.29 -8.85 M-3.52 -15.83 L-4.48 -15.50 L-5.12 -14.50 L-5.44 -12.84 L-5.44 -11.84 L-5.12 -10.18 L-4.48 -9.18 L-3.52 -8.85 L-2.88 -8.85 L-1.92 -9.18 L-1.28 -10.18 L-0.96 -11.84 L-0.96 -12.84 L-1.28 -14.50 L-1.92 -15.50 L-2.88 -15.83 L-3.52 -15.83" stroke-width="1.15"/></g>
<g transform="translate(485.65 483.70)" fill="none" stroke="#000" stroke-width="1.15" stroke-linecap="round" stroke-linejoin="round"><path d="M-32.85 -9.83 L-31.74 -10.40 L-30.06 -12.14 L-30.06 0.00 M-20.04 -12.14 L-21.71 -11.56 L-22.82 -9.83 L-23.38 -6.94 L-23.38 -5.20 L-22.82 -2.31 L-21.71 -0.58 L-20.04 0.00 L-18.92 0.00 L-17.25 -0.58 L-16.14 -2.31 L-15.58 -5.20 L-15.58 -6.94 L-16.14 -9.83 L-17.25 -11.56 L-18.92 -12.14 L-20.04 -12.14"/><path d="M-10.89 -14.50 L-10.25 -14.83 L-9.29 -15.83 L-9.29 -8.85 M-4.48 -14.50 L-3.84 -14.83 L-2.88 -15.83 L-2.88 -8.85" stroke-width="1.15"/></g>
<g transform="translate(485.65 423.80)" fill="none" stroke="#000" stroke-width="1.15" stroke-linecap="round" stroke-linejoin="round"><path d="M-32.85 -9.83 L-31.74 -10.40 L-30.06 -12.14 L-30.06 0.00 M-20.04 -12.14 L-21.71 -11.56 L-22.82 -9.83 L-23.38 -6.94 L-23.38 -5.20 L-22.82 -2.31 L-21.71 -0.58 L-20.04 0.00 L-18.92 0.00 L-17.25 -0.58 L-16.14 -2.31 L-15.58 -5.20 L-15.58 -6.94 L-16.14 -9.83 L-17.25 -11.56 L-18.92 -12.14 L-20.04 -12.14"/><path d="M-10.89 -14.50 L-10.25 -14.83 L-9.29 -15.83 L-9.29 -8.85 M-5.12 -14.17 L-5.12 -14.50 L-4.80 -15.16 L-4.48 -15.50 L-3.84 -15.83 L-2.56 -15.83 L-1.92 -15.50 L-1.60 -15.16 L-1.28 -14.50 L-1.28 -13.84 L-1.60 -13.17 L-2.24 -12.17 L-5.44 -8.85 L-0.96 -8.85" stroke-width="1.15"/></g>
<line x1="502.50" y1="411.85" x2="502.50" y2="686.0" stroke="#222" stroke-width="1"/>
<line x1="565.20" y1="420.85" x2="565.20" y2="686.0" stroke="#444" stroke-width="1" stroke-dasharray="8.0 7.12"/>
<line x1="627.79" y1="414.30" x2="627.79" y2="686.0" stroke="#444" stroke-width="1.05" stroke-dasharray="1.9 3.4"/>
<g transform="translate(510.85 439.25)" fill="none" stroke="#505050" stroke-width="1.0" stroke-linecap="round" stroke-linejoin="round"><path d="M6.08 -6.09 L1.30 0.00 M1.30 -6.09 L6.08 -6.09 M1.30 0.00 L6.08 0.00 M9.11 -5.22 L16.93 -5.22 M9.11 -2.61 L16.93 -2.61 M22.57 -9.13 L21.27 -8.70 L20.40 -7.39 L19.96 -5.22 L19.96 -3.92 L20.40 -1.74 L21.27 -0.43 L22.57 0.00 L23.44 0.00 L24.74 -0.43 L25.61 -1.74 L26.04 -3.92 L26.04 -5.22 L25.61 -7.39 L24.74 -8.70 L23.44 -9.13 L22.57 -9.13 M29.51 -0.87 L29.08 -0.43 L29.51 0.00 L29.95 -0.43 L29.51 -0.87 M35.59 -9.13 L34.29 -8.70 L33.42 -7.39 L32.98 -5.22 L32.98 -3.92 L33.42 -1.74 L34.29 -0.43 L35.59 0.00 L36.46 0.00 L37.76 -0.43 L38.63 -1.74 L39.06 -3.92 L39.06 -5.22 L38.63 -7.39 L37.76 -8.70 L36.46 -9.13 L35.59 -9.13"/></g>
<g transform="translate(644.55 733.40)" fill="none" stroke="#000" stroke-width="1.15" stroke-linecap="round" stroke-linejoin="round"><path d="M-56.83 -10.61 L-56.83 0.00 M-56.83 -10.61 L-52.19 0.00 M-47.55 -10.61 L-52.19 0.00 M-47.55 -10.61 L-47.55 0.00 M-10.56 -13.38 L-10.56 4.80 M-9.98 -13.38 L-9.98 4.80 M-10.56 -13.38 L-6.50 -13.38 M-10.56 4.80 L-6.50 4.80 M-2.44 -10.61 L-2.44 0.00 M-2.44 -10.61 L2.20 0.00 M6.84 -10.61 L2.20 0.00 M6.84 -10.61 L6.84 0.00 M38.85 -12.88 L28.41 4.80 M42.33 -10.61 L42.33 0.00 M42.33 -5.05 L44.07 -6.57 L45.23 -7.07 L46.97 -7.07 L48.13 -6.57 L48.71 -5.05 L48.71 0.00 M56.25 -13.38 L56.25 4.80 M56.83 -13.38 L56.83 4.80 M52.77 -13.38 L56.83 -13.38 M52.77 4.80 L56.83 4.80"/><path d="M-44.09 -2.39 L-44.09 5.30 M-44.09 1.64 L-43.02 0.54 L-42.30 0.17 L-41.22 0.17 L-40.50 0.54 L-40.14 1.64 L-40.14 5.30 M-33.31 0.17 L-33.31 5.30 M-33.31 1.27 L-34.03 0.54 L-34.74 0.17 L-35.82 0.17 L-36.54 0.54 L-37.26 1.27 L-37.62 2.37 L-37.62 3.10 L-37.26 4.20 L-36.54 4.93 L-35.82 5.30 L-34.74 5.30 L-34.03 4.93 L-33.31 4.20 M-30.43 -2.39 L-30.43 5.30 M-26.11 0.17 L-26.83 0.54 L-27.55 1.27 L-27.91 2.37 L-27.91 3.10 L-27.55 4.20 L-26.83 4.93 L-26.11 5.30 L-25.04 5.30 L-24.32 4.93 L-23.60 4.20 L-23.24 3.10 L-23.24 2.37 L-23.60 1.27 L-24.32 0.54 L-25.04 0.17 L-26.11 0.17" stroke-width="1.35"/><ellipse cx="14.09" cy="1.42" rx="3.60" ry="3.85" fill="none" stroke-width="1.35"/><circle cx="14.09" cy="1.42" r="1.05" fill="#000" stroke="none"/></g>
<g transform="translate(431.90 549.52) rotate(-90)" fill="none" stroke="#000" stroke-width="1.15" stroke-linecap="round" stroke-linejoin="round"><path d="M-47.90 -10.61 L-47.90 0.00 M-47.90 -10.61 L-43.26 0.00 M-38.62 -10.61 L-43.26 0.00 M-38.62 -10.61 L-38.62 0.00 M-19.49 -13.38 L-19.49 4.80 M-18.91 -13.38 L-18.91 4.80 M-19.49 -13.38 L-15.43 -13.38 M-19.49 4.80 L-15.43 4.80 M-11.37 -10.61 L-11.37 0.00 M-11.37 -10.61 L-6.73 0.00 M-2.09 -10.61 L-6.73 0.00 M-2.09 -10.61 L-2.09 0.00 M29.92 -12.88 L19.48 4.80 M33.40 -10.61 L33.40 0.00 M33.40 -5.05 L35.14 -6.57 L36.30 -7.07 L38.04 -7.07 L39.20 -6.57 L39.78 -5.05 L39.78 0.00 M47.32 -13.38 L47.32 4.80 M47.90 -13.38 L47.90 4.80 M43.84 -13.38 L47.90 -13.38 M43.84 4.80 L47.90 4.80"/><polygon points="-33.50,-0.37 -32.81,1.03 -31.27,1.25 -32.39,2.34 -32.12,3.88 -33.50,3.16 -34.89,3.88 -34.62,2.34 -35.74,1.25 -34.19,1.03" fill="#000" stroke="#000" stroke-width="0.5"/><ellipse cx="5.15" cy="1.42" rx="3.60" ry="3.85" fill="none" stroke-width="1.35"/><circle cx="5.15" cy="1.42" r="1.05" fill="#000" stroke="none"/></g>
<rect x="664.3" y="584.3" width="113.8" height="82.3" fill="#fff" stroke="#555" stroke-width="1"/>
<line x1="671" y1="595.60" x2="698.6" y2="595.60" stroke="#ff0000" stroke-width="1.55"/>
<g transform="translate(703.20 598.55)" fill="none" stroke="#404040" stroke-width="0.9" stroke-linecap="round" stroke-linejoin="round"><path d="M3.23 -7.24 L0.36 0.00 M3.23 -7.24 L6.10 0.00 M1.44 -2.42 L5.03 -2.42 M6.46 0.00 L12.21 0.00 M13.64 -7.24 L13.64 0.00 M13.64 0.00 L17.95 0.00 M19.74 -5.52 L19.74 -5.86 L20.10 -6.55 L20.46 -6.90 L21.18 -7.24 L22.62 -7.24 L23.33 -6.90 L23.69 -6.55 L24.05 -5.86 L24.05 -5.17 L23.69 -4.48 L22.98 -3.45 L19.39 0.00 L24.41 0.00 M28.72 -7.24 L27.64 -6.90 L26.92 -5.86 L26.57 -4.14 L26.57 -3.10 L26.92 -1.38 L27.64 -0.34 L28.72 0.00 L29.44 0.00 L30.51 -0.34 L31.23 -1.38 L31.59 -3.10 L31.59 -4.14 L31.23 -5.86 L30.51 -6.90 L29.44 -7.24 L28.72 -7.24 M34.10 -4.83 L34.10 0.00 M34.10 -3.45 L35.18 -4.48 L35.90 -4.83 L36.98 -4.83 L37.69 -4.48 L38.05 -3.45 L38.05 0.00 M44.87 -7.24 L41.28 -7.24 L40.93 -4.14 L41.28 -4.48 L42.36 -4.83 L43.44 -4.83 L44.52 -4.48 L45.23 -3.79 L45.59 -2.76 L45.59 -2.07 L45.23 -1.03 L44.52 -0.34 L43.44 0.00 L42.36 0.00 L41.28 -0.34 L40.93 -0.69 L40.57 -1.38 M48.82 -5.86 L49.54 -6.21 L50.62 -7.24 L50.62 0.00 M55.29 -5.52 L55.29 -5.86 L55.64 -6.55 L56.00 -6.90 L56.72 -7.24 L58.16 -7.24 L58.88 -6.90 L59.23 -6.55 L59.59 -5.86 L59.59 -5.17 L59.23 -4.48 L58.52 -3.45 L54.93 0.00 L59.95 0.00"/></g>
<line x1="671" y1="608.14" x2="698.6" y2="608.14" stroke="#0000ff" stroke-width="1.55"/>
<g transform="translate(703.20 611.09)" fill="none" stroke="#404040" stroke-width="0.9" stroke-linecap="round" stroke-linejoin="round"><path d="M6.46 -5.52 L6.10 -6.21 L5.38 -6.90 L4.67 -7.24 L3.23 -7.24 L2.51 -6.90 L1.79 -6.21 L1.44 -5.52 L1.08 -4.48 L1.08 -2.76 L1.44 -1.72 L1.79 -1.03 L2.51 -0.34 L3.23 0.00 L4.67 0.00 L5.38 -0.34 L6.10 -1.03 L6.46 -1.72 L6.46 -2.76 M4.67 -2.76 L6.46 -2.76 M7.54 0.00 L13.28 0.00 M14.72 -7.24 L14.72 0.00 M14.72 0.00 L19.03 0.00 M20.82 -5.52 L20.82 -5.86 L21.18 -6.55 L21.54 -6.90 L22.26 -7.24 L23.69 -7.24 L24.41 -6.90 L24.77 -6.55 L25.13 -5.86 L25.13 -5.17 L24.77 -4.48 L24.05 -3.45 L20.46 0.00 L25.49 0.00 M29.80 -7.24 L28.72 -6.90 L28.00 -5.86 L27.64 -4.14 L27.64 -3.10 L28.00 -1.38 L28.72 -0.34 L29.80 0.00 L30.52 0.00 L31.59 -0.34 L32.31 -1.38 L32.67 -3.10 L32.67 -4.14 L32.31 -5.86 L31.59 -6.90 L30.52 -7.24 L29.80 -7.24 M35.18 -4.83 L35.18 0.00 M35.18 -3.45 L36.26 -4.48 L36.98 -4.83 L38.05 -4.83 L38.77 -4.48 L39.13 -3.45 L39.13 0.00 M45.95 -7.24 L42.36 -7.24 L42.00 -4.14 L42.36 -4.48 L43.44 -4.83 L44.52 -4.83 L45.59 -4.48 L46.31 -3.79 L46.67 -2.76 L46.67 -2.07 L46.31 -1.03 L45.59 -0.34 L44.52 0.00 L43.44 0.00 L42.36 -0.34 L42.00 -0.69 L41.64 -1.38 M49.90 -5.86 L50.62 -6.21 L51.70 -7.24 L51.70 0.00 M56.36 -5.52 L56.36 -5.86 L56.72 -6.55 L57.08 -6.90 L57.80 -7.24 L59.23 -7.24 L59.95 -6.90 L60.31 -6.55 L60.67 -5.86 L60.67 -5.17 L60.31 -4.48 L59.59 -3.45 L56.00 0.00 L61.03 0.00"/></g>
<line x1="671" y1="620.68" x2="698.6" y2="620.68" stroke="#ff0000" stroke-width="1.55" stroke-dasharray="9.3 5.9"/>
<g transform="translate(703.20 623.63)" fill="none" stroke="#404040" stroke-width="0.9" stroke-linecap="round" stroke-linejoin="round"><path d="M3.23 -7.24 L0.36 0.00 M3.23 -7.24 L6.10 0.00 M1.44 -2.42 L5.03 -2.42 M6.46 0.00 L12.21 0.00 M13.64 -7.24 L13.64 0.00 M13.64 0.00 L17.95 0.00 M19.74 -5.52 L19.74 -5.86 L20.10 -6.55 L20.46 -6.90 L21.18 -7.24 L22.62 -7.24 L23.33 -6.90 L23.69 -6.55 L24.05 -5.86 L24.05 -5.17 L23.69 -4.48 L22.98 -3.45 L19.39 0.00 L24.41 0.00 M28.72 -7.24 L27.64 -6.90 L26.92 -5.86 L26.57 -4.14 L26.57 -3.10 L26.92 -1.38 L27.64 -0.34 L28.72 0.00 L29.44 0.00 L30.51 -0.34 L31.23 -1.38 L31.59 -3.10 L31.59 -4.14 L31.23 -5.86 L30.51 -6.90 L29.44 -7.24 L28.72 -7.24 M34.10 -4.83 L34.10 0.00 M34.10 -3.45 L35.18 -4.48 L35.90 -4.83 L36.98 -4.83 L37.69 -4.48 L38.05 -3.45 L38.05 0.00 M40.93 -5.52 L40.93 -5.86 L41.28 -6.55 L41.64 -6.90 L42.36 -7.24 L43.80 -7.24 L44.52 -6.90 L44.87 -6.55 L45.23 -5.86 L45.23 -5.17 L44.87 -4.48 L44.16 -3.45 L40.57 0.00 L45.59 0.00 M52.05 -7.24 L48.46 -7.24 L48.11 -4.14 L48.46 -4.48 L49.54 -4.83 L50.62 -4.83 L51.70 -4.48 L52.41 -3.79 L52.77 -2.76 L52.77 -2.07 L52.41 -1.03 L51.70 -0.34 L50.62 0.00 L49.54 0.00 L48.46 -0.34 L48.11 -0.69 L47.75 -1.38 M59.59 -6.21 L59.23 -6.90 L58.16 -7.24 L57.44 -7.24 L56.36 -6.90 L55.64 -5.86 L55.29 -4.14 L55.29 -2.42 L55.64 -1.03 L56.36 -0.34 L57.44 0.00 L57.80 0.00 L58.88 -0.34 L59.59 -1.03 L59.95 -2.07 L59.95 -2.42 L59.59 -3.45 L58.88 -4.14 L57.80 -4.48 L57.44 -4.48 L56.36 -4.14 L55.64 -3.45 L55.29 -2.42"/></g>
<line x1="671" y1="633.22" x2="698.6" y2="633.22" stroke="#0000ff" stroke-width="1.55" stroke-dasharray="9.3 5.9"/>
<g transform="translate(703.20 636.17)" fill="none" stroke="#404040" stroke-width="0.9" stroke-linecap="round" stroke-linejoin="round"><path d="M6.46 -5.52 L6.10 -6.21 L5.38 -6.90 L4.67 -7.24 L3.23 -7.24 L2.51 -6.90 L1.79 -6.21 L1.44 -5.52 L1.08 -4.48 L1.08 -2.76 L1.44 -1.72 L1.79 -1.03 L2.51 -0.34 L3.23 0.00 L4.67 0.00 L5.38 -0.34 L6.10 -1.03 L6.46 -1.72 L6.46 -2.76 M4.67 -2.76 L6.46 -2.76 M7.54 0.00 L13.28 0.00 M14.72 -7.24 L14.72 0.00 M14.72 0.00 L19.03 0.00 M20.82 -5.52 L20.82 -5.86 L21.18 -6.55 L21.54 -6.90 L22.26 -7.24 L23.69 -7.24 L24.41 -6.90 L24.77 -6.55 L25.13 -5.86 L25.13 -5.17 L24.77 -4.48 L24.05 -3.45 L20.46 0.00 L25.49 0.00 M29.80 -7.24 L28.72 -6.90 L28.00 -5.86 L27.64 -4.14 L27.64 -3.10 L28.00 -1.38 L28.72 -0.34 L29.80 0.00 L30.52 0.00 L31.59 -0.34 L32.31 -1.38 L32.67 -3.10 L32.67 -4.14 L32.31 -5.86 L31.59 -6.90 L30.52 -7.24 L29.80 -7.24 M35.18 -4.83 L35.18 0.00 M35.18 -3.45 L36.26 -4.48 L36.98 -4.83 L38.05 -4.83 L38.77 -4.48 L39.13 -3.45 L39.13 0.00 M42.00 -5.52 L42.00 -5.86 L42.36 -6.55 L42.72 -6.90 L43.44 -7.24 L44.87 -7.24 L45.59 -6.90 L45.95 -6.55 L46.31 -5.86 L46.31 -5.17 L45.95 -4.48 L45.23 -3.45 L41.64 0.00 L46.67 0.00 M53.13 -7.24 L49.54 -7.24 L49.18 -4.14 L49.54 -4.48 L50.62 -4.83 L51.70 -4.83 L52.77 -4.48 L53.49 -3.79 L53.85 -2.76 L53.85 -2.07 L53.49 -1.03 L52.77 -0.34 L51.70 0.00 L50.62 0.00 L49.54 -0.34 L49.18 -0.69 L48.82 -1.38 M60.67 -6.21 L60.31 -6.90 L59.23 -7.24 L58.52 -7.24 L57.44 -6.90 L56.72 -5.86 L56.36 -4.14 L56.36 -2.42 L56.72 -1.03 L57.44 -0.34 L58.52 0.00 L58.88 0.00 L59.95 -0.34 L60.67 -1.03 L61.03 -2.07 L61.03 -2.42 L60.67 -3.45 L59.95 -4.14 L58.88 -4.48 L58.52 -4.48 L57.44 -4.14 L56.72 -3.45 L56.36 -2.42"/></g>
<line x1="671" y1="645.76" x2="698.6" y2="645.76" stroke="#ff0000" stroke-width="1.55" stroke-dasharray="1.8 2.65"/>
<g transform="translate(703.20 648.71)" fill="none" stroke="#404040" stroke-width="0.9" stroke-linecap="round" stroke-linejoin="round"><path d="M3.23 -7.24 L0.36 0.00 M3.23 -7.24 L6.10 0.00 M1.44 -2.42 L5.03 -2.42 M6.46 0.00 L12.21 0.00 M13.64 -7.24 L13.64 0.00 M13.64 0.00 L17.95 0.00 M19.74 -5.52 L19.74 -5.86 L20.10 -6.55 L20.46 -6.90 L21.18 -7.24 L22.62 -7.24 L23.33 -6.90 L23.69 -6.55 L24.05 -5.86 L24.05 -5.17 L23.69 -4.48 L22.98 -3.45 L19.39 0.00 L24.41 0.00 M28.72 -7.24 L27.64 -6.90 L26.92 -5.86 L26.57 -4.14 L26.57 -3.10 L26.92 -1.38 L27.64 -0.34 L28.72 0.00 L29.44 0.00 L30.51 -0.34 L31.23 -1.38 L31.59 -3.10 L31.59 -4.14 L31.23 -5.86 L30.51 -6.90 L29.44 -7.24 L28.72 -7.24 M34.10 -4.83 L34.10 0.00 M34.10 -3.45 L35.18 -4.48 L35.90 -4.83 L36.98 -4.83 L37.69 -4.48 L38.05 -3.45 L38.05 0.00 M41.64 -5.86 L42.36 -6.21 L43.44 -7.24 L43.44 0.00 M48.11 -5.52 L48.11 -5.86 L48.46 -6.55 L48.82 -6.90 L49.54 -7.24 L50.98 -7.24 L51.70 -6.90 L52.05 -6.55 L52.41 -5.86 L52.41 -5.17 L52.05 -4.48 L51.34 -3.45 L47.75 0.00 L52.77 0.00 M56.72 -7.24 L55.64 -6.90 L55.29 -6.21 L55.29 -5.52 L55.64 -4.83 L56.36 -4.48 L57.80 -4.14 L58.88 -3.79 L59.59 -3.10 L59.95 -2.42 L59.95 -1.38 L59.59 -0.69 L59.23 -0.34 L58.16 0.00 L56.72 0.00 L55.64 -0.34 L55.29 -0.69 L54.93 -1.38 L54.93 -2.42 L55.29 -3.10 L56.00 -3.79 L57.08 -4.14 L58.52 -4.48 L59.23 -4.83 L59.59 -5.52 L59.59 -6.21 L59.23 -6.90 L58.16 -7.24 L56.72 -7.24"/></g>
<line x1="671" y1="658.30" x2="698.6" y2="658.30" stroke="#0000ff" stroke-width="1.55" stroke-dasharray="1.8 2.65"/>
<g transform="translate(703.20 661.25)" fill="none" stroke="#404040" stroke-width="0.9" stroke-linecap="round" stroke-linejoin="round"><path d="M6.46 -5.52 L6.10 -6.21 L5.38 -6.90 L4.67 -7.24 L3.23 -7.24 L2.51 -6.90 L1.79 -6.21 L1.44 -5.52 L1.08 -4.48 L1.08 -2.76 L1.44 -1.72 L1.79 -1.03 L2.51 -0.34 L3.23 0.00 L4.67 0.00 L5.38 -0.34 L6.10 -1.03 L6.46 -1.72 L6.46 -2.76 M4.67 -2.76 L6.46 -2.76 M7.54 0.00 L13.28 0.00 M14.72 -7.24 L14.72 0.00 M14.72 0.00 L19.03 0.00 M20.82 -5.52 L20.82 -5.86 L21.18 -6.55 L21.54 -6.90 L22.26 -7.24 L23.69 -7.24 L24.41 -6.90 L24.77 -6.55 L25.13 -5.86 L25.13 -5.17 L24.77 -4.48 L24.05 -3.45 L20.46 0.00 L25.49 0.00 M29.80 -7.24 L28.72 -6.90 L28.00 -5.86 L27.64 -4.14 L27.64 -3.10 L28.00 -1.38 L28.72 -0.34 L29.80 0.00 L30.52 0.00 L31.59 -0.34 L32.31 -1.38 L32.67 -3.10 L32.67 -4.14 L32.31 -5.86 L31.59 -6.90 L30.52 -7.24 L29.80 -7.24 M35.18 -4.83 L35.18 0.00 M35.18 -3.45 L36.26 -4.48 L36.98 -4.83 L38.05 -4.83 L38.77 -4.48 L39.13 -3.45 L39.13 0.00 M42.72 -5.86 L43.44 -6.21 L44.52 -7.24 L44.52 0.00 M49.18 -5.52 L49.18 -5.86 L49.54 -6.55 L49.90 -6.90 L50.62 -7.24 L52.05 -7.24 L52.77 -6.90 L53.13 -6.55 L53.49 -5.86 L53.49 -5.17 L53.13 -4.48 L52.41 -3.45 L48.82 0.00 L53.85 0.00 M57.80 -7.24 L56.72 -6.90 L56.36 -6.21 L56.36 -5.52 L56.72 -4.83 L57.44 -4.48 L58.88 -4.14 L59.95 -3.79 L60.67 -3.10 L61.03 -2.42 L61.03 -1.38 L60.67 -0.69 L60.31 -0.34 L59.23 0.00 L57.80 0.00 L56.72 -0.34 L56.36 -0.69 L56.00 -1.38 L56.00 -2.42 L56.36 -3.10 L57.08 -3.79 L58.16 -4.14 L59.59 -4.48 L60.31 -4.83 L60.67 -5.52 L60.67 -6.21 L60.31 -6.90 L59.23 -7.24 L57.80 -7.24"/></g>
</svg>
</body></html>
